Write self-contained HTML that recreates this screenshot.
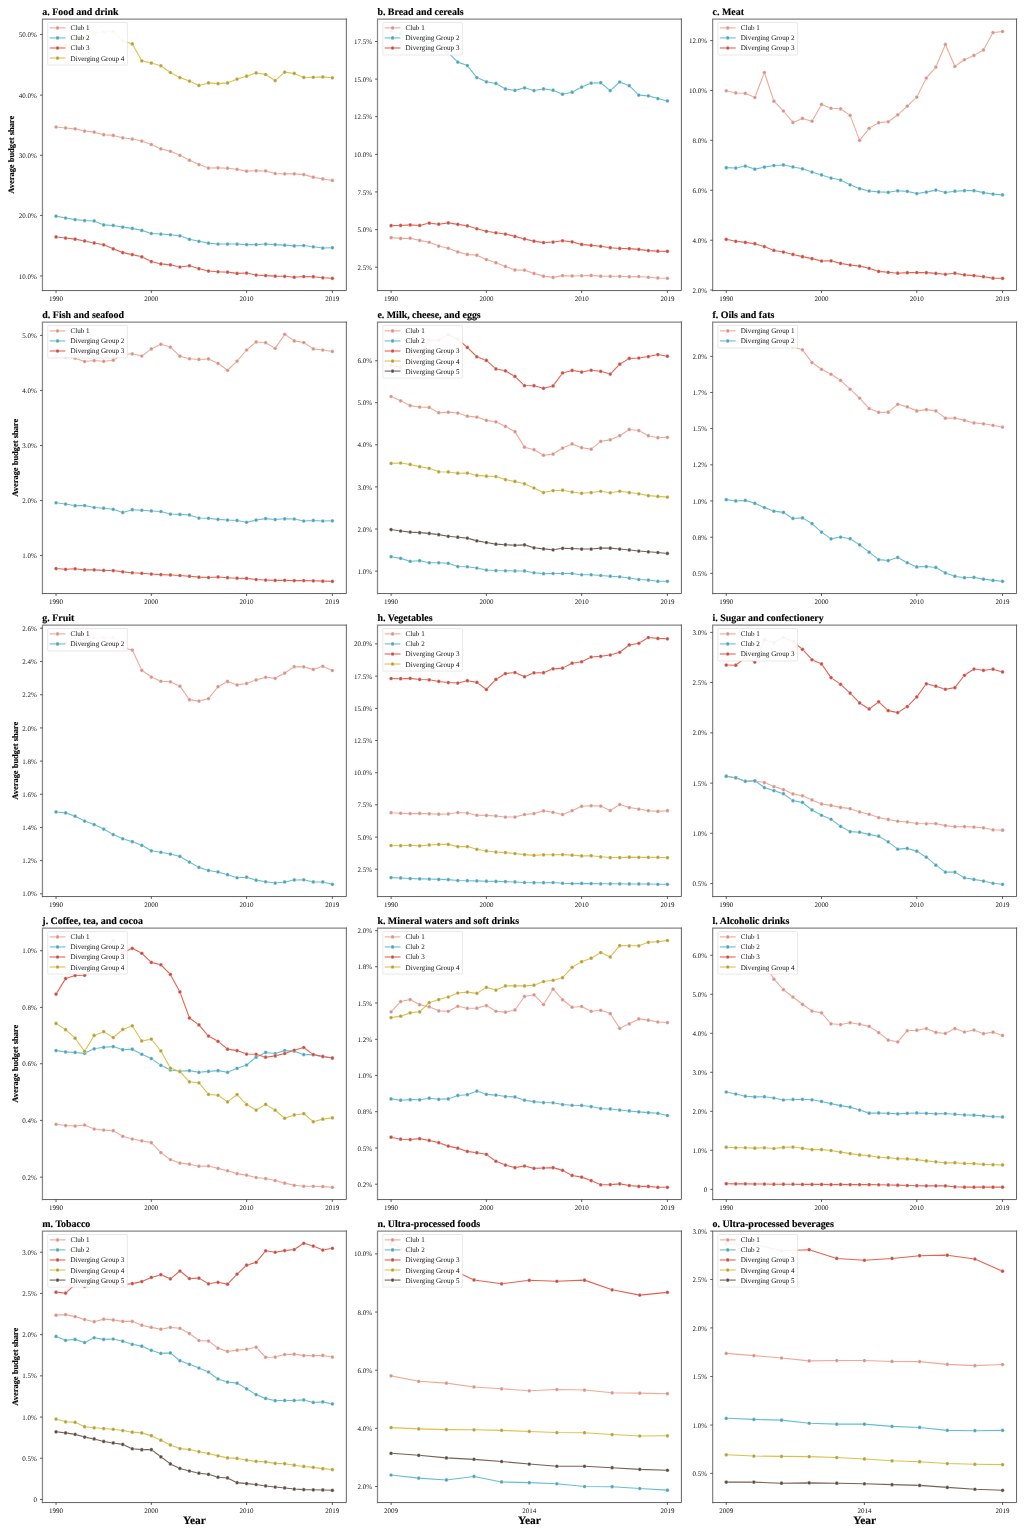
<!DOCTYPE html>
<html lang="en">
<head>
<meta charset="utf-8">
<title>Average budget share by convergence club</title>
<style>
html,body{margin:0;padding:0;background:#fff;}
body{width:1024px;height:1536px;overflow:hidden;}
svg{display:block;}
text{font-family:"Liberation Serif","DejaVu Serif",serif;fill:#111;stroke:#111;stroke-width:0;text-rendering:geometricPrecision;}
.ttl{font-size:9.94px;font-weight:bold;fill:#000;stroke:#000;stroke-width:0.15;}
.yt{font-size:7px;text-anchor:end;}
.xt{font-size:7px;text-anchor:middle;}
.lgt{font-size:7.1px;}
.yl{font-size:8.45px;font-weight:bold;text-anchor:middle;fill:#000;stroke:#000;stroke-width:0.15;}
.xl{font-size:11.4px;font-weight:bold;text-anchor:middle;fill:#000;stroke:#000;stroke-width:0.15;}
.sp{fill:none;stroke:#868686;stroke-width:1.25;stroke-linecap:square;}
.sp2{fill:none;stroke:#626262;stroke-width:1.0;}
.tk{fill:none;stroke:#333;stroke-width:0.8;}
.lgb{fill:#fff;fill-opacity:0.91;stroke:#d8d8d8;stroke-width:0.6;}
.ser{opacity:0.88;}
.mk circle,.mk1{stroke:#fff;stroke-width:0.35;}
.ser path{stroke-width:1.1;stroke-linejoin:round;stroke-linecap:butt;}
</style>
</head>
<body>
<svg width="1024" height="1536" viewBox="0 0 1024 1536" role="img" aria-label="Average budget share by club, 15 panels">
<rect width="1024" height="1536" fill="#fff"/>
<g>
<text class="ttl" x="42.35" y="14.7">a. Food and drink</text>
<g class="ser">
<path d="M56.06 127.02 L65.59 127.93 L75.12 128.84 L84.64 131.03 L94.17 132.12 L103.7 134.68 L113.22 135.41 L122.75 137.78 L132.28 139.05 L141.8 141.06 L151.33 144.52 L160.86 148.9 L170.38 151.27 L179.91 155.28 L189.44 160.2 L198.96 164.57 L208.49 168.04 L218.02 167.85 L227.54 168.22 L237.07 169.31 L246.6 171.14 L256.12 170.77 L265.65 170.95 L275.18 173.51 L284.7 173.87 L294.23 173.87 L303.76 174.6 L313.28 177.15 L322.81 178.97 L332.34 180.43" stroke="#F19D88" fill="none"/>
<g class="mk" fill="#CF867C"><circle cx="56.06" cy="127.02" r="1.85"/><circle cx="65.59" cy="127.93" r="1.85"/><circle cx="75.12" cy="128.84" r="1.85"/><circle cx="84.64" cy="131.03" r="1.85"/><circle cx="94.17" cy="132.12" r="1.85"/><circle cx="103.7" cy="134.68" r="1.85"/><circle cx="113.22" cy="135.41" r="1.85"/><circle cx="122.75" cy="137.78" r="1.85"/><circle cx="132.28" cy="139.05" r="1.85"/><circle cx="141.8" cy="141.06" r="1.85"/><circle cx="151.33" cy="144.52" r="1.85"/><circle cx="160.86" cy="148.9" r="1.85"/><circle cx="170.38" cy="151.27" r="1.85"/><circle cx="179.91" cy="155.28" r="1.85"/><circle cx="189.44" cy="160.2" r="1.85"/><circle cx="198.96" cy="164.57" r="1.85"/><circle cx="208.49" cy="168.04" r="1.85"/><circle cx="218.02" cy="167.85" r="1.85"/><circle cx="227.54" cy="168.22" r="1.85"/><circle cx="237.07" cy="169.31" r="1.85"/><circle cx="246.6" cy="171.14" r="1.85"/><circle cx="256.12" cy="170.77" r="1.85"/><circle cx="265.65" cy="170.95" r="1.85"/><circle cx="275.18" cy="173.51" r="1.85"/><circle cx="284.7" cy="173.87" r="1.85"/><circle cx="294.23" cy="173.87" r="1.85"/><circle cx="303.76" cy="174.6" r="1.85"/><circle cx="313.28" cy="177.15" r="1.85"/><circle cx="322.81" cy="178.97" r="1.85"/><circle cx="332.34" cy="180.43" r="1.85"/></g>
<path d="M56.06 216.16 L65.59 217.98 L75.12 219.62 L84.64 220.54 L94.17 220.9 L103.7 224.91 L113.22 225.46 L122.75 227.1 L132.28 228.38 L141.8 230.38 L151.33 233.48 L160.86 234.03 L170.38 234.76 L179.91 235.85 L189.44 239.31 L198.96 241.32 L208.49 243.14 L218.02 244.05 L227.54 244.05 L237.07 244.05 L246.6 244.6 L256.12 244.6 L265.65 244.05 L275.18 244.6 L284.7 245.15 L294.23 245.88 L303.76 245.51 L313.28 246.79 L322.81 248.06 L332.34 247.7" stroke="#4FB6CE" fill="none"/>
<g class="mk" fill="#3A97AB"><circle cx="56.06" cy="216.16" r="1.85"/><circle cx="65.59" cy="217.98" r="1.85"/><circle cx="75.12" cy="219.62" r="1.85"/><circle cx="84.64" cy="220.54" r="1.85"/><circle cx="94.17" cy="220.9" r="1.85"/><circle cx="103.7" cy="224.91" r="1.85"/><circle cx="113.22" cy="225.46" r="1.85"/><circle cx="122.75" cy="227.1" r="1.85"/><circle cx="132.28" cy="228.38" r="1.85"/><circle cx="141.8" cy="230.38" r="1.85"/><circle cx="151.33" cy="233.48" r="1.85"/><circle cx="160.86" cy="234.03" r="1.85"/><circle cx="170.38" cy="234.76" r="1.85"/><circle cx="179.91" cy="235.85" r="1.85"/><circle cx="189.44" cy="239.31" r="1.85"/><circle cx="198.96" cy="241.32" r="1.85"/><circle cx="208.49" cy="243.14" r="1.85"/><circle cx="218.02" cy="244.05" r="1.85"/><circle cx="227.54" cy="244.05" r="1.85"/><circle cx="237.07" cy="244.05" r="1.85"/><circle cx="246.6" cy="244.6" r="1.85"/><circle cx="256.12" cy="244.6" r="1.85"/><circle cx="265.65" cy="244.05" r="1.85"/><circle cx="275.18" cy="244.6" r="1.85"/><circle cx="284.7" cy="245.15" r="1.85"/><circle cx="294.23" cy="245.88" r="1.85"/><circle cx="303.76" cy="245.51" r="1.85"/><circle cx="313.28" cy="246.79" r="1.85"/><circle cx="322.81" cy="248.06" r="1.85"/><circle cx="332.34" cy="247.7" r="1.85"/></g>
<path d="M56.06 236.94 L65.59 238.04 L75.12 239.13 L84.64 240.95 L94.17 242.96 L103.7 244.78 L113.22 248.79 L122.75 252.62 L132.28 254.62 L141.8 256.81 L151.33 261.55 L160.86 263.92 L170.38 264.83 L179.91 267.02 L189.44 265.74 L198.96 268.66 L208.49 271.03 L218.02 271.76 L227.54 272.12 L237.07 273.4 L246.6 273.04 L256.12 275.04 L265.65 275.59 L275.18 276.14 L284.7 276.32 L294.23 277.23 L303.76 276.5 L313.28 276.68 L322.81 277.78 L332.34 278.32" stroke="#E64B35" fill="none"/>
<g class="mk" fill="#BE372F"><circle cx="56.06" cy="236.94" r="1.85"/><circle cx="65.59" cy="238.04" r="1.85"/><circle cx="75.12" cy="239.13" r="1.85"/><circle cx="84.64" cy="240.95" r="1.85"/><circle cx="94.17" cy="242.96" r="1.85"/><circle cx="103.7" cy="244.78" r="1.85"/><circle cx="113.22" cy="248.79" r="1.85"/><circle cx="122.75" cy="252.62" r="1.85"/><circle cx="132.28" cy="254.62" r="1.85"/><circle cx="141.8" cy="256.81" r="1.85"/><circle cx="151.33" cy="261.55" r="1.85"/><circle cx="160.86" cy="263.92" r="1.85"/><circle cx="170.38" cy="264.83" r="1.85"/><circle cx="179.91" cy="267.02" r="1.85"/><circle cx="189.44" cy="265.74" r="1.85"/><circle cx="198.96" cy="268.66" r="1.85"/><circle cx="208.49" cy="271.03" r="1.85"/><circle cx="218.02" cy="271.76" r="1.85"/><circle cx="227.54" cy="272.12" r="1.85"/><circle cx="237.07" cy="273.4" r="1.85"/><circle cx="246.6" cy="273.04" r="1.85"/><circle cx="256.12" cy="275.04" r="1.85"/><circle cx="265.65" cy="275.59" r="1.85"/><circle cx="275.18" cy="276.14" r="1.85"/><circle cx="284.7" cy="276.32" r="1.85"/><circle cx="294.23" cy="277.23" r="1.85"/><circle cx="303.76" cy="276.5" r="1.85"/><circle cx="313.28" cy="276.68" r="1.85"/><circle cx="322.81" cy="277.78" r="1.85"/><circle cx="332.34" cy="278.32" r="1.85"/></g>
<path d="M56.06 47.72 L65.59 45.35 L75.12 43.17 L84.64 37.7 L94.17 32.78 L103.7 31.86 L113.22 31.5 L122.75 40.8 L132.28 43.9 L141.8 60.85 L151.33 63.04 L160.86 65.77 L170.38 72.52 L179.91 77.62 L189.44 81.08 L198.96 85.46 L208.49 82.91 L218.02 83.64 L227.54 82.91 L237.07 79.08 L246.6 76.16 L256.12 72.88 L265.65 74.52 L275.18 80.54 L284.7 72.15 L294.23 73.43 L303.76 77.44 L313.28 77.26 L322.81 76.89 L332.34 77.8" stroke="#D9B92E" fill="none"/>
<g class="mk" fill="#AD9420"><circle cx="56.06" cy="47.72" r="1.85"/><circle cx="65.59" cy="45.35" r="1.85"/><circle cx="75.12" cy="43.17" r="1.85"/><circle cx="84.64" cy="37.7" r="1.85"/><circle cx="94.17" cy="32.78" r="1.85"/><circle cx="103.7" cy="31.86" r="1.85"/><circle cx="113.22" cy="31.5" r="1.85"/><circle cx="122.75" cy="40.8" r="1.85"/><circle cx="132.28" cy="43.9" r="1.85"/><circle cx="141.8" cy="60.85" r="1.85"/><circle cx="151.33" cy="63.04" r="1.85"/><circle cx="160.86" cy="65.77" r="1.85"/><circle cx="170.38" cy="72.52" r="1.85"/><circle cx="179.91" cy="77.62" r="1.85"/><circle cx="189.44" cy="81.08" r="1.85"/><circle cx="198.96" cy="85.46" r="1.85"/><circle cx="208.49" cy="82.91" r="1.85"/><circle cx="218.02" cy="83.64" r="1.85"/><circle cx="227.54" cy="82.91" r="1.85"/><circle cx="237.07" cy="79.08" r="1.85"/><circle cx="246.6" cy="76.16" r="1.85"/><circle cx="256.12" cy="72.88" r="1.85"/><circle cx="265.65" cy="74.52" r="1.85"/><circle cx="275.18" cy="80.54" r="1.85"/><circle cx="284.7" cy="72.15" r="1.85"/><circle cx="294.23" cy="73.43" r="1.85"/><circle cx="303.76" cy="77.44" r="1.85"/><circle cx="313.28" cy="77.26" r="1.85"/><circle cx="322.81" cy="76.89" r="1.85"/><circle cx="332.34" cy="77.8" r="1.85"/></g>
</g>
<rect class="lgb" x="47.75" y="22.5" width="79.6" height="42.55" rx="0.8"/>
<g opacity="0.88"><path d="M49.65 27.88H65.45" stroke="#F19D88" stroke-width="1.1"/><circle class="mk1" cx="57.55" cy="27.88" r="1.85" fill="#CF867C"/></g>
<text class="lgt" x="70.55" y="30.38">Club 1</text>
<g opacity="0.88"><path d="M49.65 37.93H65.45" stroke="#4FB6CE" stroke-width="1.1"/><circle class="mk1" cx="57.55" cy="37.93" r="1.85" fill="#3A97AB"/></g>
<text class="lgt" x="70.55" y="40.43">Club 2</text>
<g opacity="0.88"><path d="M49.65 47.98H65.45" stroke="#E64B35" stroke-width="1.1"/><circle class="mk1" cx="57.55" cy="47.98" r="1.85" fill="#BE372F"/></g>
<text class="lgt" x="70.55" y="50.48">Club 3</text>
<g opacity="0.88"><path d="M49.65 58.03H65.45" stroke="#D9B92E" stroke-width="1.1"/><circle class="mk1" cx="57.55" cy="58.03" r="1.85" fill="#AD9420"/></g>
<text class="lgt" x="70.55" y="60.53">Diverging Group 4</text>
<path class="sp" d="M42.45 290.56V19H346.35"/>
<path class="sp2" d="M346.35 18.5V290.56H41.95"/>
<text class="yt" x="36.95" y="37.02">50.0%</text>
<text class="yt" x="36.95" y="97.72">40.0%</text>
<text class="yt" x="36.95" y="157.88">30.0%</text>
<text class="yt" x="36.95" y="218.03">20.0%</text>
<text class="yt" x="36.95" y="278.55">10.0%</text>
<text class="xt" x="56.06" y="300.76">1990</text>
<text class="xt" x="151.33" y="300.76">2000</text>
<text class="xt" x="246.6" y="300.76">2010</text>
<text class="xt" x="332.34" y="300.76">2019</text>
<path class="tk" d="M42.45 34.42h-2.4M42.45 95.12h-2.4M42.45 155.28h-2.4M42.45 215.43h-2.4M42.45 275.95h-2.4M56.06 290.56v2.4M151.33 290.56v2.4M246.6 290.56v2.4M332.34 290.56v2.4"/>
<text class="yl" transform="translate(14.2 154.78) rotate(-90)">Average budget share</text>
</g>
<g>
<text class="ttl" x="377.4" y="14.7">b. Bread and cereals</text>
<g class="ser">
<path d="M391.11 237.67 L400.64 238.4 L410.17 238.22 L419.69 240.41 L429.22 242.23 L438.75 246.06 L448.27 248.24 L457.8 251.89 L467.33 254.44 L476.85 255.17 L486.38 259.55 L495.91 262.65 L505.43 266.47 L514.96 269.94 L524.49 270.12 L534.01 273.4 L543.54 276.14 L553.07 277.41 L562.59 275.59 L572.12 275.95 L581.65 275.77 L591.17 275.41 L600.7 276.14 L610.23 276.32 L619.75 276.32 L629.28 276.68 L638.81 276.5 L648.33 277.23 L657.86 277.96 L667.39 278.32" stroke="#F19D88" fill="none"/>
<g class="mk" fill="#CF867C"><circle cx="391.11" cy="237.67" r="1.85"/><circle cx="400.64" cy="238.4" r="1.85"/><circle cx="410.17" cy="238.22" r="1.85"/><circle cx="419.69" cy="240.41" r="1.85"/><circle cx="429.22" cy="242.23" r="1.85"/><circle cx="438.75" cy="246.06" r="1.85"/><circle cx="448.27" cy="248.24" r="1.85"/><circle cx="457.8" cy="251.89" r="1.85"/><circle cx="467.33" cy="254.44" r="1.85"/><circle cx="476.85" cy="255.17" r="1.85"/><circle cx="486.38" cy="259.55" r="1.85"/><circle cx="495.91" cy="262.65" r="1.85"/><circle cx="505.43" cy="266.47" r="1.85"/><circle cx="514.96" cy="269.94" r="1.85"/><circle cx="524.49" cy="270.12" r="1.85"/><circle cx="534.01" cy="273.4" r="1.85"/><circle cx="543.54" cy="276.14" r="1.85"/><circle cx="553.07" cy="277.41" r="1.85"/><circle cx="562.59" cy="275.59" r="1.85"/><circle cx="572.12" cy="275.95" r="1.85"/><circle cx="581.65" cy="275.77" r="1.85"/><circle cx="591.17" cy="275.41" r="1.85"/><circle cx="600.7" cy="276.14" r="1.85"/><circle cx="610.23" cy="276.32" r="1.85"/><circle cx="619.75" cy="276.32" r="1.85"/><circle cx="629.28" cy="276.68" r="1.85"/><circle cx="638.81" cy="276.5" r="1.85"/><circle cx="648.33" cy="277.23" r="1.85"/><circle cx="657.86" cy="277.96" r="1.85"/><circle cx="667.39" cy="278.32" r="1.85"/></g>
<path d="M391.11 31.32 L400.64 33.69 L410.17 36.24 L419.69 39.16 L429.22 42.8 L438.75 47.18 L448.27 52.65 L457.8 62.12 L467.33 65.59 L476.85 77.62 L486.38 81.81 L495.91 83.45 L505.43 88.92 L514.96 90.38 L524.49 87.83 L534.01 90.56 L543.54 88.92 L553.07 90.2 L562.59 94.21 L572.12 92.2 L581.65 87.1 L591.17 83.09 L600.7 82.72 L610.23 90.56 L619.75 81.99 L629.28 85.64 L638.81 95.12 L648.33 95.85 L657.86 98.58 L667.39 100.95" stroke="#4FB6CE" fill="none"/>
<g class="mk" fill="#3A97AB"><circle cx="391.11" cy="31.32" r="1.85"/><circle cx="400.64" cy="33.69" r="1.85"/><circle cx="410.17" cy="36.24" r="1.85"/><circle cx="419.69" cy="39.16" r="1.85"/><circle cx="429.22" cy="42.8" r="1.85"/><circle cx="438.75" cy="47.18" r="1.85"/><circle cx="448.27" cy="52.65" r="1.85"/><circle cx="457.8" cy="62.12" r="1.85"/><circle cx="467.33" cy="65.59" r="1.85"/><circle cx="476.85" cy="77.62" r="1.85"/><circle cx="486.38" cy="81.81" r="1.85"/><circle cx="495.91" cy="83.45" r="1.85"/><circle cx="505.43" cy="88.92" r="1.85"/><circle cx="514.96" cy="90.38" r="1.85"/><circle cx="524.49" cy="87.83" r="1.85"/><circle cx="534.01" cy="90.56" r="1.85"/><circle cx="543.54" cy="88.92" r="1.85"/><circle cx="553.07" cy="90.2" r="1.85"/><circle cx="562.59" cy="94.21" r="1.85"/><circle cx="572.12" cy="92.2" r="1.85"/><circle cx="581.65" cy="87.1" r="1.85"/><circle cx="591.17" cy="83.09" r="1.85"/><circle cx="600.7" cy="82.72" r="1.85"/><circle cx="610.23" cy="90.56" r="1.85"/><circle cx="619.75" cy="81.99" r="1.85"/><circle cx="629.28" cy="85.64" r="1.85"/><circle cx="638.81" cy="95.12" r="1.85"/><circle cx="648.33" cy="95.85" r="1.85"/><circle cx="657.86" cy="98.58" r="1.85"/><circle cx="667.39" cy="100.95" r="1.85"/></g>
<path d="M391.11 225.64 L400.64 225.46 L410.17 224.91 L419.69 225.46 L429.22 223.09 L438.75 224.18 L448.27 222.91 L457.8 224.36 L467.33 225.82 L476.85 228.74 L486.38 231.29 L495.91 232.75 L505.43 234.03 L514.96 236.4 L524.49 238.95 L534.01 241.14 L543.54 242.59 L553.07 242.05 L562.59 240.77 L572.12 241.86 L581.65 244.42 L591.17 245.33 L600.7 246.24 L610.23 247.7 L619.75 248.43 L629.28 248.61 L638.81 249.34 L648.33 250.61 L657.86 251.16 L667.39 251.34" stroke="#E64B35" fill="none"/>
<g class="mk" fill="#BE372F"><circle cx="391.11" cy="225.64" r="1.85"/><circle cx="400.64" cy="225.46" r="1.85"/><circle cx="410.17" cy="224.91" r="1.85"/><circle cx="419.69" cy="225.46" r="1.85"/><circle cx="429.22" cy="223.09" r="1.85"/><circle cx="438.75" cy="224.18" r="1.85"/><circle cx="448.27" cy="222.91" r="1.85"/><circle cx="457.8" cy="224.36" r="1.85"/><circle cx="467.33" cy="225.82" r="1.85"/><circle cx="476.85" cy="228.74" r="1.85"/><circle cx="486.38" cy="231.29" r="1.85"/><circle cx="495.91" cy="232.75" r="1.85"/><circle cx="505.43" cy="234.03" r="1.85"/><circle cx="514.96" cy="236.4" r="1.85"/><circle cx="524.49" cy="238.95" r="1.85"/><circle cx="534.01" cy="241.14" r="1.85"/><circle cx="543.54" cy="242.59" r="1.85"/><circle cx="553.07" cy="242.05" r="1.85"/><circle cx="562.59" cy="240.77" r="1.85"/><circle cx="572.12" cy="241.86" r="1.85"/><circle cx="581.65" cy="244.42" r="1.85"/><circle cx="591.17" cy="245.33" r="1.85"/><circle cx="600.7" cy="246.24" r="1.85"/><circle cx="610.23" cy="247.7" r="1.85"/><circle cx="619.75" cy="248.43" r="1.85"/><circle cx="629.28" cy="248.61" r="1.85"/><circle cx="638.81" cy="249.34" r="1.85"/><circle cx="648.33" cy="250.61" r="1.85"/><circle cx="657.86" cy="251.16" r="1.85"/><circle cx="667.39" cy="251.34" r="1.85"/></g>
</g>
<rect class="lgb" x="382.8" y="22.5" width="79.6" height="32.5" rx="0.8"/>
<g opacity="0.88"><path d="M384.7 27.88H400.5" stroke="#F19D88" stroke-width="1.1"/><circle class="mk1" cx="392.6" cy="27.88" r="1.85" fill="#CF867C"/></g>
<text class="lgt" x="405.6" y="30.38">Club 1</text>
<g opacity="0.88"><path d="M384.7 37.93H400.5" stroke="#4FB6CE" stroke-width="1.1"/><circle class="mk1" cx="392.6" cy="37.93" r="1.85" fill="#3A97AB"/></g>
<text class="lgt" x="405.6" y="40.43">Diverging Group 2</text>
<g opacity="0.88"><path d="M384.7 47.98H400.5" stroke="#E64B35" stroke-width="1.1"/><circle class="mk1" cx="392.6" cy="47.98" r="1.85" fill="#BE372F"/></g>
<text class="lgt" x="405.6" y="50.48">Diverging Group 3</text>
<path class="sp" d="M377.5 290.56V19H681.4"/>
<path class="sp2" d="M681.4 18.5V290.56H377"/>
<text class="yt" x="372" y="44.13">17.5%</text>
<text class="yt" x="372" y="81.68">15.0%</text>
<text class="yt" x="372" y="119.23">12.5%</text>
<text class="yt" x="372" y="156.96">10.0%</text>
<text class="yt" x="372" y="194.52">7.5%</text>
<text class="yt" x="372" y="232.25">5.0%</text>
<text class="yt" x="372" y="269.8">2.5%</text>
<text class="xt" x="391.11" y="300.76">1990</text>
<text class="xt" x="486.38" y="300.76">2000</text>
<text class="xt" x="581.65" y="300.76">2010</text>
<text class="xt" x="667.39" y="300.76">2019</text>
<path class="tk" d="M377.5 41.53h-2.4M377.5 79.08h-2.4M377.5 116.63h-2.4M377.5 154.36h-2.4M377.5 191.92h-2.4M377.5 229.65h-2.4M377.5 267.2h-2.4M391.11 290.56v2.4M486.38 290.56v2.4M581.65 290.56v2.4M667.39 290.56v2.4"/>
</g>
<g>
<text class="ttl" x="712.55" y="14.7">c. Meat</text>
<g class="ser">
<path d="M726.26 90.74 L735.79 92.93 L745.32 93.3 L754.84 97.49 L764.37 72.52 L773.9 101.14 L783.42 110.98 L792.95 122.46 L802.48 118.45 L812 121.19 L821.53 104.42 L831.06 108.24 L840.58 108.79 L850.11 115.35 L859.64 140.33 L869.16 128.3 L878.69 122.65 L888.22 121.73 L897.74 114.81 L907.27 106.06 L916.8 97.12 L926.32 77.98 L935.85 67.05 L945.38 44.44 L954.9 66.32 L964.43 59.76 L973.96 55.38 L983.48 49.91 L993.01 32.59 L1002.54 31.5" stroke="#F19D88" fill="none"/>
<g class="mk" fill="#CF867C"><circle cx="726.26" cy="90.74" r="1.85"/><circle cx="735.79" cy="92.93" r="1.85"/><circle cx="745.32" cy="93.3" r="1.85"/><circle cx="754.84" cy="97.49" r="1.85"/><circle cx="764.37" cy="72.52" r="1.85"/><circle cx="773.9" cy="101.14" r="1.85"/><circle cx="783.42" cy="110.98" r="1.85"/><circle cx="792.95" cy="122.46" r="1.85"/><circle cx="802.48" cy="118.45" r="1.85"/><circle cx="812" cy="121.19" r="1.85"/><circle cx="821.53" cy="104.42" r="1.85"/><circle cx="831.06" cy="108.24" r="1.85"/><circle cx="840.58" cy="108.79" r="1.85"/><circle cx="850.11" cy="115.35" r="1.85"/><circle cx="859.64" cy="140.33" r="1.85"/><circle cx="869.16" cy="128.3" r="1.85"/><circle cx="878.69" cy="122.65" r="1.85"/><circle cx="888.22" cy="121.73" r="1.85"/><circle cx="897.74" cy="114.81" r="1.85"/><circle cx="907.27" cy="106.06" r="1.85"/><circle cx="916.8" cy="97.12" r="1.85"/><circle cx="926.32" cy="77.98" r="1.85"/><circle cx="935.85" cy="67.05" r="1.85"/><circle cx="945.38" cy="44.44" r="1.85"/><circle cx="954.9" cy="66.32" r="1.85"/><circle cx="964.43" cy="59.76" r="1.85"/><circle cx="973.96" cy="55.38" r="1.85"/><circle cx="983.48" cy="49.91" r="1.85"/><circle cx="993.01" cy="32.59" r="1.85"/><circle cx="1002.54" cy="31.5" r="1.85"/></g>
<path d="M726.26 167.67 L735.79 168.04 L745.32 166.03 L754.84 169.13 L764.37 167.12 L773.9 165.48 L783.42 164.94 L792.95 166.94 L802.48 168.77 L812 172.05 L821.53 174.96 L831.06 178.06 L840.58 180.07 L850.11 184.81 L859.64 188.64 L869.16 191.01 L878.69 191.92 L888.22 192.28 L897.74 190.82 L907.27 191.37 L916.8 193.56 L926.32 192.1 L935.85 190.09 L945.38 192.46 L954.9 191.19 L964.43 190.64 L973.96 190.64 L983.48 192.65 L993.01 194.1 L1002.54 194.83" stroke="#4FB6CE" fill="none"/>
<g class="mk" fill="#3A97AB"><circle cx="726.26" cy="167.67" r="1.85"/><circle cx="735.79" cy="168.04" r="1.85"/><circle cx="745.32" cy="166.03" r="1.85"/><circle cx="754.84" cy="169.13" r="1.85"/><circle cx="764.37" cy="167.12" r="1.85"/><circle cx="773.9" cy="165.48" r="1.85"/><circle cx="783.42" cy="164.94" r="1.85"/><circle cx="792.95" cy="166.94" r="1.85"/><circle cx="802.48" cy="168.77" r="1.85"/><circle cx="812" cy="172.05" r="1.85"/><circle cx="821.53" cy="174.96" r="1.85"/><circle cx="831.06" cy="178.06" r="1.85"/><circle cx="840.58" cy="180.07" r="1.85"/><circle cx="850.11" cy="184.81" r="1.85"/><circle cx="859.64" cy="188.64" r="1.85"/><circle cx="869.16" cy="191.01" r="1.85"/><circle cx="878.69" cy="191.92" r="1.85"/><circle cx="888.22" cy="192.28" r="1.85"/><circle cx="897.74" cy="190.82" r="1.85"/><circle cx="907.27" cy="191.37" r="1.85"/><circle cx="916.8" cy="193.56" r="1.85"/><circle cx="926.32" cy="192.1" r="1.85"/><circle cx="935.85" cy="190.09" r="1.85"/><circle cx="945.38" cy="192.46" r="1.85"/><circle cx="954.9" cy="191.19" r="1.85"/><circle cx="964.43" cy="190.64" r="1.85"/><circle cx="973.96" cy="190.64" r="1.85"/><circle cx="983.48" cy="192.65" r="1.85"/><circle cx="993.01" cy="194.1" r="1.85"/><circle cx="1002.54" cy="194.83" r="1.85"/></g>
<path d="M726.26 239.31 L735.79 241.32 L745.32 242.41 L754.84 243.69 L764.37 246.6 L773.9 250.43 L783.42 252.07 L792.95 254.44 L802.48 256.63 L812 258.64 L821.53 261.01 L831.06 260.82 L840.58 263.38 L850.11 265.02 L859.64 266.11 L869.16 268.3 L878.69 271.4 L888.22 272.31 L897.74 273.22 L907.27 272.67 L916.8 272.49 L926.32 272.67 L935.85 273.4 L945.38 274.31 L954.9 273.22 L964.43 274.86 L973.96 275.59 L983.48 276.68 L993.01 278.14 L1002.54 278.32" stroke="#E64B35" fill="none"/>
<g class="mk" fill="#BE372F"><circle cx="726.26" cy="239.31" r="1.85"/><circle cx="735.79" cy="241.32" r="1.85"/><circle cx="745.32" cy="242.41" r="1.85"/><circle cx="754.84" cy="243.69" r="1.85"/><circle cx="764.37" cy="246.6" r="1.85"/><circle cx="773.9" cy="250.43" r="1.85"/><circle cx="783.42" cy="252.07" r="1.85"/><circle cx="792.95" cy="254.44" r="1.85"/><circle cx="802.48" cy="256.63" r="1.85"/><circle cx="812" cy="258.64" r="1.85"/><circle cx="821.53" cy="261.01" r="1.85"/><circle cx="831.06" cy="260.82" r="1.85"/><circle cx="840.58" cy="263.38" r="1.85"/><circle cx="850.11" cy="265.02" r="1.85"/><circle cx="859.64" cy="266.11" r="1.85"/><circle cx="869.16" cy="268.3" r="1.85"/><circle cx="878.69" cy="271.4" r="1.85"/><circle cx="888.22" cy="272.31" r="1.85"/><circle cx="897.74" cy="273.22" r="1.85"/><circle cx="907.27" cy="272.67" r="1.85"/><circle cx="916.8" cy="272.49" r="1.85"/><circle cx="926.32" cy="272.67" r="1.85"/><circle cx="935.85" cy="273.4" r="1.85"/><circle cx="945.38" cy="274.31" r="1.85"/><circle cx="954.9" cy="273.22" r="1.85"/><circle cx="964.43" cy="274.86" r="1.85"/><circle cx="973.96" cy="275.59" r="1.85"/><circle cx="983.48" cy="276.68" r="1.85"/><circle cx="993.01" cy="278.14" r="1.85"/><circle cx="1002.54" cy="278.32" r="1.85"/></g>
</g>
<rect class="lgb" x="717.95" y="22.5" width="79.6" height="32.5" rx="0.8"/>
<g opacity="0.88"><path d="M719.85 27.88H735.65" stroke="#F19D88" stroke-width="1.1"/><circle class="mk1" cx="727.75" cy="27.88" r="1.85" fill="#CF867C"/></g>
<text class="lgt" x="740.75" y="30.38">Club 1</text>
<g opacity="0.88"><path d="M719.85 37.93H735.65" stroke="#4FB6CE" stroke-width="1.1"/><circle class="mk1" cx="727.75" cy="37.93" r="1.85" fill="#3A97AB"/></g>
<text class="lgt" x="740.75" y="40.43">Diverging Group 2</text>
<g opacity="0.88"><path d="M719.85 47.98H735.65" stroke="#E64B35" stroke-width="1.1"/><circle class="mk1" cx="727.75" cy="47.98" r="1.85" fill="#BE372F"/></g>
<text class="lgt" x="740.75" y="50.48">Diverging Group 3</text>
<path class="sp" d="M712.65 290.56V19H1016.55"/>
<path class="sp2" d="M1016.55 18.5V290.56H712.15"/>
<text class="yt" x="707.15" y="43.21">12.0%</text>
<text class="yt" x="707.15" y="93.16">10.0%</text>
<text class="yt" x="707.15" y="142.93">8.0%</text>
<text class="yt" x="707.15" y="192.88">6.0%</text>
<text class="yt" x="707.15" y="242.82">4.0%</text>
<text class="yt" x="707.15" y="292.59">2.0%</text>
<text class="xt" x="726.26" y="300.76">1990</text>
<text class="xt" x="821.53" y="300.76">2000</text>
<text class="xt" x="916.8" y="300.76">2010</text>
<text class="xt" x="1002.54" y="300.76">2019</text>
<path class="tk" d="M712.65 40.61h-2.4M712.65 90.56h-2.4M712.65 140.33h-2.4M712.65 190.28h-2.4M712.65 240.22h-2.4M712.65 289.99h-2.4M726.26 290.56v2.4M821.53 290.56v2.4M916.8 290.56v2.4M1002.54 290.56v2.4"/>
</g>
<g>
<text class="ttl" x="42.35" y="317.7">d. Fish and seafood</text>
<g class="ser">
<path d="M56.06 356.19 L65.59 356.74 L75.12 358.2 L84.64 361.48 L94.17 360.57 L103.7 361.3 L113.22 360.2 L122.75 354.37 L132.28 353.82 L141.8 356.01 L151.33 348.9 L160.86 344.34 L170.38 347.08 L179.91 356.19 L189.44 358.74 L198.96 359.47 L208.49 358.93 L218.02 363.3 L227.54 370.23 L237.07 361.11 L246.6 349.99 L256.12 341.97 L265.65 342.7 L275.18 348.35 L284.7 334.32 L294.23 340.88 L303.76 342.52 L313.28 348.9 L322.81 349.99 L332.34 351.45" stroke="#F19D88" fill="none"/>
<g class="mk" fill="#CF867C"><circle cx="56.06" cy="356.19" r="1.85"/><circle cx="65.59" cy="356.74" r="1.85"/><circle cx="75.12" cy="358.2" r="1.85"/><circle cx="84.64" cy="361.48" r="1.85"/><circle cx="94.17" cy="360.57" r="1.85"/><circle cx="103.7" cy="361.3" r="1.85"/><circle cx="113.22" cy="360.2" r="1.85"/><circle cx="122.75" cy="354.37" r="1.85"/><circle cx="132.28" cy="353.82" r="1.85"/><circle cx="141.8" cy="356.01" r="1.85"/><circle cx="151.33" cy="348.9" r="1.85"/><circle cx="160.86" cy="344.34" r="1.85"/><circle cx="170.38" cy="347.08" r="1.85"/><circle cx="179.91" cy="356.19" r="1.85"/><circle cx="189.44" cy="358.74" r="1.85"/><circle cx="198.96" cy="359.47" r="1.85"/><circle cx="208.49" cy="358.93" r="1.85"/><circle cx="218.02" cy="363.3" r="1.85"/><circle cx="227.54" cy="370.23" r="1.85"/><circle cx="237.07" cy="361.11" r="1.85"/><circle cx="246.6" cy="349.99" r="1.85"/><circle cx="256.12" cy="341.97" r="1.85"/><circle cx="265.65" cy="342.7" r="1.85"/><circle cx="275.18" cy="348.35" r="1.85"/><circle cx="284.7" cy="334.32" r="1.85"/><circle cx="294.23" cy="340.88" r="1.85"/><circle cx="303.76" cy="342.52" r="1.85"/><circle cx="313.28" cy="348.9" r="1.85"/><circle cx="322.81" cy="349.99" r="1.85"/><circle cx="332.34" cy="351.45" r="1.85"/></g>
<path d="M56.06 502.76 L65.59 504.03 L75.12 505.67 L84.64 505.49 L94.17 507.49 L103.7 508.22 L113.22 509.32 L122.75 512.42 L132.28 509.68 L141.8 510.23 L151.33 510.96 L160.86 511.51 L170.38 514.06 L179.91 514.42 L189.44 514.97 L198.96 518.07 L208.49 518.25 L218.02 519.34 L227.54 520.07 L237.07 520.44 L246.6 522.26 L256.12 520.07 L265.65 518.61 L275.18 519.53 L284.7 518.8 L294.23 518.98 L303.76 520.98 L313.28 520.44 L322.81 520.98 L332.34 520.8" stroke="#4FB6CE" fill="none"/>
<g class="mk" fill="#3A97AB"><circle cx="56.06" cy="502.76" r="1.85"/><circle cx="65.59" cy="504.03" r="1.85"/><circle cx="75.12" cy="505.67" r="1.85"/><circle cx="84.64" cy="505.49" r="1.85"/><circle cx="94.17" cy="507.49" r="1.85"/><circle cx="103.7" cy="508.22" r="1.85"/><circle cx="113.22" cy="509.32" r="1.85"/><circle cx="122.75" cy="512.42" r="1.85"/><circle cx="132.28" cy="509.68" r="1.85"/><circle cx="141.8" cy="510.23" r="1.85"/><circle cx="151.33" cy="510.96" r="1.85"/><circle cx="160.86" cy="511.51" r="1.85"/><circle cx="170.38" cy="514.06" r="1.85"/><circle cx="179.91" cy="514.42" r="1.85"/><circle cx="189.44" cy="514.97" r="1.85"/><circle cx="198.96" cy="518.07" r="1.85"/><circle cx="208.49" cy="518.25" r="1.85"/><circle cx="218.02" cy="519.34" r="1.85"/><circle cx="227.54" cy="520.07" r="1.85"/><circle cx="237.07" cy="520.44" r="1.85"/><circle cx="246.6" cy="522.26" r="1.85"/><circle cx="256.12" cy="520.07" r="1.85"/><circle cx="265.65" cy="518.61" r="1.85"/><circle cx="275.18" cy="519.53" r="1.85"/><circle cx="284.7" cy="518.8" r="1.85"/><circle cx="294.23" cy="518.98" r="1.85"/><circle cx="303.76" cy="520.98" r="1.85"/><circle cx="313.28" cy="520.44" r="1.85"/><circle cx="322.81" cy="520.98" r="1.85"/><circle cx="332.34" cy="520.8" r="1.85"/></g>
<path d="M56.06 568.56 L65.59 569.29 L75.12 568.74 L84.64 569.84 L94.17 569.84 L103.7 570.39 L113.22 570.57 L122.75 571.84 L132.28 572.76 L141.8 573.3 L151.33 574.03 L160.86 574.58 L170.38 574.94 L179.91 575.49 L189.44 576.22 L198.96 577.13 L208.49 577.49 L218.02 576.95 L227.54 577.68 L237.07 578.22 L246.6 578.41 L256.12 579.5 L265.65 580.05 L275.18 580.41 L284.7 580.23 L294.23 580.59 L303.76 580.59 L313.28 580.78 L322.81 581.14 L332.34 581.32" stroke="#E64B35" fill="none"/>
<g class="mk" fill="#BE372F"><circle cx="56.06" cy="568.56" r="1.85"/><circle cx="65.59" cy="569.29" r="1.85"/><circle cx="75.12" cy="568.74" r="1.85"/><circle cx="84.64" cy="569.84" r="1.85"/><circle cx="94.17" cy="569.84" r="1.85"/><circle cx="103.7" cy="570.39" r="1.85"/><circle cx="113.22" cy="570.57" r="1.85"/><circle cx="122.75" cy="571.84" r="1.85"/><circle cx="132.28" cy="572.76" r="1.85"/><circle cx="141.8" cy="573.3" r="1.85"/><circle cx="151.33" cy="574.03" r="1.85"/><circle cx="160.86" cy="574.58" r="1.85"/><circle cx="170.38" cy="574.94" r="1.85"/><circle cx="179.91" cy="575.49" r="1.85"/><circle cx="189.44" cy="576.22" r="1.85"/><circle cx="198.96" cy="577.13" r="1.85"/><circle cx="208.49" cy="577.49" r="1.85"/><circle cx="218.02" cy="576.95" r="1.85"/><circle cx="227.54" cy="577.68" r="1.85"/><circle cx="237.07" cy="578.22" r="1.85"/><circle cx="246.6" cy="578.41" r="1.85"/><circle cx="256.12" cy="579.5" r="1.85"/><circle cx="265.65" cy="580.05" r="1.85"/><circle cx="275.18" cy="580.41" r="1.85"/><circle cx="284.7" cy="580.23" r="1.85"/><circle cx="294.23" cy="580.59" r="1.85"/><circle cx="303.76" cy="580.59" r="1.85"/><circle cx="313.28" cy="580.78" r="1.85"/><circle cx="322.81" cy="581.14" r="1.85"/><circle cx="332.34" cy="581.32" r="1.85"/></g>
</g>
<rect class="lgb" x="47.75" y="325.5" width="79.6" height="32.5" rx="0.8"/>
<g opacity="0.88"><path d="M49.65 330.88H65.45" stroke="#F19D88" stroke-width="1.1"/><circle class="mk1" cx="57.55" cy="330.88" r="1.85" fill="#CF867C"/></g>
<text class="lgt" x="70.55" y="333.38">Club 1</text>
<g opacity="0.88"><path d="M49.65 340.93H65.45" stroke="#4FB6CE" stroke-width="1.1"/><circle class="mk1" cx="57.55" cy="340.93" r="1.85" fill="#3A97AB"/></g>
<text class="lgt" x="70.55" y="343.43">Diverging Group 2</text>
<g opacity="0.88"><path d="M49.65 350.98H65.45" stroke="#E64B35" stroke-width="1.1"/><circle class="mk1" cx="57.55" cy="350.98" r="1.85" fill="#BE372F"/></g>
<text class="lgt" x="70.55" y="353.48">Diverging Group 3</text>
<path class="sp" d="M42.45 593.56V322H346.35"/>
<path class="sp2" d="M346.35 321.5V593.56H41.95"/>
<text class="yt" x="36.95" y="338.01">5.0%</text>
<text class="yt" x="36.95" y="393.06">4.0%</text>
<text class="yt" x="36.95" y="448.12">3.0%</text>
<text class="yt" x="36.95" y="503.17">2.0%</text>
<text class="yt" x="36.95" y="558.04">1.0%</text>
<text class="xt" x="56.06" y="603.76">1990</text>
<text class="xt" x="151.33" y="603.76">2000</text>
<text class="xt" x="246.6" y="603.76">2010</text>
<text class="xt" x="332.34" y="603.76">2019</text>
<path class="tk" d="M42.45 335.41h-2.4M42.45 390.46h-2.4M42.45 445.52h-2.4M42.45 500.57h-2.4M42.45 555.44h-2.4M56.06 593.56v2.4M151.33 593.56v2.4M246.6 593.56v2.4M332.34 593.56v2.4"/>
<text class="yl" transform="translate(17.7 457.78) rotate(-90)">Average budget share</text>
</g>
<g>
<text class="ttl" x="377.4" y="317.7">e. Milk, cheese, and eggs</text>
<g class="ser">
<path d="M391.11 396.48 L400.64 400.85 L410.17 405.59 L419.69 407.05 L429.22 407.42 L438.75 412.7 L448.27 412.16 L457.8 413.07 L467.33 416.17 L476.85 417.08 L486.38 420.36 L495.91 421.82 L505.43 426.38 L514.96 431.66 L524.49 447.16 L534.01 449.71 L543.54 455.18 L553.07 454.08 L562.59 448.07 L572.12 443.88 L581.65 447.7 L591.17 449.16 L600.7 441.32 L610.23 439.86 L619.75 435.67 L629.28 429.47 L638.81 430.57 L648.33 435.67 L657.86 437.68 L667.39 437.31" stroke="#F19D88" fill="none"/>
<g class="mk" fill="#CF867C"><circle cx="391.11" cy="396.48" r="1.85"/><circle cx="400.64" cy="400.85" r="1.85"/><circle cx="410.17" cy="405.59" r="1.85"/><circle cx="419.69" cy="407.05" r="1.85"/><circle cx="429.22" cy="407.42" r="1.85"/><circle cx="438.75" cy="412.7" r="1.85"/><circle cx="448.27" cy="412.16" r="1.85"/><circle cx="457.8" cy="413.07" r="1.85"/><circle cx="467.33" cy="416.17" r="1.85"/><circle cx="476.85" cy="417.08" r="1.85"/><circle cx="486.38" cy="420.36" r="1.85"/><circle cx="495.91" cy="421.82" r="1.85"/><circle cx="505.43" cy="426.38" r="1.85"/><circle cx="514.96" cy="431.66" r="1.85"/><circle cx="524.49" cy="447.16" r="1.85"/><circle cx="534.01" cy="449.71" r="1.85"/><circle cx="543.54" cy="455.18" r="1.85"/><circle cx="553.07" cy="454.08" r="1.85"/><circle cx="562.59" cy="448.07" r="1.85"/><circle cx="572.12" cy="443.88" r="1.85"/><circle cx="581.65" cy="447.7" r="1.85"/><circle cx="591.17" cy="449.16" r="1.85"/><circle cx="600.7" cy="441.32" r="1.85"/><circle cx="610.23" cy="439.86" r="1.85"/><circle cx="619.75" cy="435.67" r="1.85"/><circle cx="629.28" cy="429.47" r="1.85"/><circle cx="638.81" cy="430.57" r="1.85"/><circle cx="648.33" cy="435.67" r="1.85"/><circle cx="657.86" cy="437.68" r="1.85"/><circle cx="667.39" cy="437.31" r="1.85"/></g>
<path d="M391.11 556.71 L400.64 558.35 L410.17 561.27 L419.69 560.72 L429.22 562.73 L438.75 562.73 L448.27 563.28 L457.8 566.56 L467.33 566.74 L476.85 568.02 L486.38 570.02 L495.91 570.57 L505.43 570.75 L514.96 570.93 L524.49 570.93 L534.01 572.76 L543.54 573.67 L553.07 573.48 L562.59 573.48 L572.12 573.48 L581.65 574.76 L591.17 574.76 L600.7 575.49 L610.23 576.22 L619.75 576.77 L629.28 578.04 L638.81 579.5 L648.33 580.05 L657.86 581.32 L667.39 581.32" stroke="#4FB6CE" fill="none"/>
<g class="mk" fill="#3A97AB"><circle cx="391.11" cy="556.71" r="1.85"/><circle cx="400.64" cy="558.35" r="1.85"/><circle cx="410.17" cy="561.27" r="1.85"/><circle cx="419.69" cy="560.72" r="1.85"/><circle cx="429.22" cy="562.73" r="1.85"/><circle cx="438.75" cy="562.73" r="1.85"/><circle cx="448.27" cy="563.28" r="1.85"/><circle cx="457.8" cy="566.56" r="1.85"/><circle cx="467.33" cy="566.74" r="1.85"/><circle cx="476.85" cy="568.02" r="1.85"/><circle cx="486.38" cy="570.02" r="1.85"/><circle cx="495.91" cy="570.57" r="1.85"/><circle cx="505.43" cy="570.75" r="1.85"/><circle cx="514.96" cy="570.93" r="1.85"/><circle cx="524.49" cy="570.93" r="1.85"/><circle cx="534.01" cy="572.76" r="1.85"/><circle cx="543.54" cy="573.67" r="1.85"/><circle cx="553.07" cy="573.48" r="1.85"/><circle cx="562.59" cy="573.48" r="1.85"/><circle cx="572.12" cy="573.48" r="1.85"/><circle cx="581.65" cy="574.76" r="1.85"/><circle cx="591.17" cy="574.76" r="1.85"/><circle cx="600.7" cy="575.49" r="1.85"/><circle cx="610.23" cy="576.22" r="1.85"/><circle cx="619.75" cy="576.77" r="1.85"/><circle cx="629.28" cy="578.04" r="1.85"/><circle cx="638.81" cy="579.5" r="1.85"/><circle cx="648.33" cy="580.05" r="1.85"/><circle cx="657.86" cy="581.32" r="1.85"/><circle cx="667.39" cy="581.32" r="1.85"/></g>
<path d="M391.11 365.31 L400.64 367.13 L410.17 354.92 L419.69 356.19 L429.22 339.97 L438.75 340.15 L448.27 334.5 L457.8 339.24 L467.33 347.44 L476.85 356.74 L486.38 360.39 L495.91 368.95 L505.43 370.78 L514.96 376.43 L524.49 385.54 L534.01 385.72 L543.54 388.28 L553.07 385.91 L562.59 372.96 L572.12 370.41 L581.65 372.05 L591.17 370.23 L600.7 371.32 L610.23 374.06 L619.75 364.21 L629.28 358.38 L638.81 358.02 L648.33 356.56 L657.86 354.55 L667.39 356.19" stroke="#E64B35" fill="none"/>
<g class="mk" fill="#BE372F"><circle cx="391.11" cy="365.31" r="1.85"/><circle cx="400.64" cy="367.13" r="1.85"/><circle cx="410.17" cy="354.92" r="1.85"/><circle cx="419.69" cy="356.19" r="1.85"/><circle cx="429.22" cy="339.97" r="1.85"/><circle cx="438.75" cy="340.15" r="1.85"/><circle cx="448.27" cy="334.5" r="1.85"/><circle cx="457.8" cy="339.24" r="1.85"/><circle cx="467.33" cy="347.44" r="1.85"/><circle cx="476.85" cy="356.74" r="1.85"/><circle cx="486.38" cy="360.39" r="1.85"/><circle cx="495.91" cy="368.95" r="1.85"/><circle cx="505.43" cy="370.78" r="1.85"/><circle cx="514.96" cy="376.43" r="1.85"/><circle cx="524.49" cy="385.54" r="1.85"/><circle cx="534.01" cy="385.72" r="1.85"/><circle cx="543.54" cy="388.28" r="1.85"/><circle cx="553.07" cy="385.91" r="1.85"/><circle cx="562.59" cy="372.96" r="1.85"/><circle cx="572.12" cy="370.41" r="1.85"/><circle cx="581.65" cy="372.05" r="1.85"/><circle cx="591.17" cy="370.23" r="1.85"/><circle cx="600.7" cy="371.32" r="1.85"/><circle cx="610.23" cy="374.06" r="1.85"/><circle cx="619.75" cy="364.21" r="1.85"/><circle cx="629.28" cy="358.38" r="1.85"/><circle cx="638.81" cy="358.02" r="1.85"/><circle cx="648.33" cy="356.56" r="1.85"/><circle cx="657.86" cy="354.55" r="1.85"/><circle cx="667.39" cy="356.19" r="1.85"/></g>
<path d="M391.11 463.38 L400.64 463.02 L410.17 464.47 L419.69 466.66 L429.22 468.3 L438.75 471.77 L448.27 471.95 L457.8 473.22 L467.33 473.04 L476.85 475.41 L486.38 476.14 L495.91 476.51 L505.43 479.6 L514.96 481.43 L524.49 483.8 L534.01 487.99 L543.54 492.55 L553.07 490.54 L562.59 490.18 L572.12 492 L581.65 493.28 L591.17 492.55 L600.7 491.27 L610.23 492.73 L619.75 491.27 L629.28 492.55 L638.81 493.82 L648.33 495.65 L657.86 496.38 L667.39 497.1" stroke="#D9B92E" fill="none"/>
<g class="mk" fill="#AD9420"><circle cx="391.11" cy="463.38" r="1.85"/><circle cx="400.64" cy="463.02" r="1.85"/><circle cx="410.17" cy="464.47" r="1.85"/><circle cx="419.69" cy="466.66" r="1.85"/><circle cx="429.22" cy="468.3" r="1.85"/><circle cx="438.75" cy="471.77" r="1.85"/><circle cx="448.27" cy="471.95" r="1.85"/><circle cx="457.8" cy="473.22" r="1.85"/><circle cx="467.33" cy="473.04" r="1.85"/><circle cx="476.85" cy="475.41" r="1.85"/><circle cx="486.38" cy="476.14" r="1.85"/><circle cx="495.91" cy="476.51" r="1.85"/><circle cx="505.43" cy="479.6" r="1.85"/><circle cx="514.96" cy="481.43" r="1.85"/><circle cx="524.49" cy="483.8" r="1.85"/><circle cx="534.01" cy="487.99" r="1.85"/><circle cx="543.54" cy="492.55" r="1.85"/><circle cx="553.07" cy="490.54" r="1.85"/><circle cx="562.59" cy="490.18" r="1.85"/><circle cx="572.12" cy="492" r="1.85"/><circle cx="581.65" cy="493.28" r="1.85"/><circle cx="591.17" cy="492.55" r="1.85"/><circle cx="600.7" cy="491.27" r="1.85"/><circle cx="610.23" cy="492.73" r="1.85"/><circle cx="619.75" cy="491.27" r="1.85"/><circle cx="629.28" cy="492.55" r="1.85"/><circle cx="638.81" cy="493.82" r="1.85"/><circle cx="648.33" cy="495.65" r="1.85"/><circle cx="657.86" cy="496.38" r="1.85"/><circle cx="667.39" cy="497.1" r="1.85"/></g>
<path d="M391.11 529.55 L400.64 531.01 L410.17 532.1 L419.69 532.65 L429.22 533.38 L438.75 534.66 L448.27 536.3 L457.8 537.21 L467.33 538.12 L476.85 540.85 L486.38 542.49 L495.91 544.14 L505.43 544.68 L514.96 545.23 L524.49 544.86 L534.01 547.78 L543.54 548.88 L553.07 549.79 L562.59 548.33 L572.12 548.51 L581.65 549.06 L591.17 549.06 L600.7 548.15 L610.23 548.15 L619.75 549.06 L629.28 549.97 L638.81 551.06 L648.33 551.79 L657.86 552.52 L667.39 553.43" stroke="#634C3F" fill="none"/>
<g class="mk" fill="#44352E"><circle cx="391.11" cy="529.55" r="1.85"/><circle cx="400.64" cy="531.01" r="1.85"/><circle cx="410.17" cy="532.1" r="1.85"/><circle cx="419.69" cy="532.65" r="1.85"/><circle cx="429.22" cy="533.38" r="1.85"/><circle cx="438.75" cy="534.66" r="1.85"/><circle cx="448.27" cy="536.3" r="1.85"/><circle cx="457.8" cy="537.21" r="1.85"/><circle cx="467.33" cy="538.12" r="1.85"/><circle cx="476.85" cy="540.85" r="1.85"/><circle cx="486.38" cy="542.49" r="1.85"/><circle cx="495.91" cy="544.14" r="1.85"/><circle cx="505.43" cy="544.68" r="1.85"/><circle cx="514.96" cy="545.23" r="1.85"/><circle cx="524.49" cy="544.86" r="1.85"/><circle cx="534.01" cy="547.78" r="1.85"/><circle cx="543.54" cy="548.88" r="1.85"/><circle cx="553.07" cy="549.79" r="1.85"/><circle cx="562.59" cy="548.33" r="1.85"/><circle cx="572.12" cy="548.51" r="1.85"/><circle cx="581.65" cy="549.06" r="1.85"/><circle cx="591.17" cy="549.06" r="1.85"/><circle cx="600.7" cy="548.15" r="1.85"/><circle cx="610.23" cy="548.15" r="1.85"/><circle cx="619.75" cy="549.06" r="1.85"/><circle cx="629.28" cy="549.97" r="1.85"/><circle cx="638.81" cy="551.06" r="1.85"/><circle cx="648.33" cy="551.79" r="1.85"/><circle cx="657.86" cy="552.52" r="1.85"/><circle cx="667.39" cy="553.43" r="1.85"/></g>
</g>
<rect class="lgb" x="382.8" y="325.5" width="79.6" height="52.6" rx="0.8"/>
<g opacity="0.88"><path d="M384.7 330.88H400.5" stroke="#F19D88" stroke-width="1.1"/><circle class="mk1" cx="392.6" cy="330.88" r="1.85" fill="#CF867C"/></g>
<text class="lgt" x="405.6" y="333.38">Club 1</text>
<g opacity="0.88"><path d="M384.7 340.93H400.5" stroke="#4FB6CE" stroke-width="1.1"/><circle class="mk1" cx="392.6" cy="340.93" r="1.85" fill="#3A97AB"/></g>
<text class="lgt" x="405.6" y="343.43">Club 2</text>
<g opacity="0.88"><path d="M384.7 350.98H400.5" stroke="#E64B35" stroke-width="1.1"/><circle class="mk1" cx="392.6" cy="350.98" r="1.85" fill="#BE372F"/></g>
<text class="lgt" x="405.6" y="353.48">Diverging Group 3</text>
<g opacity="0.88"><path d="M384.7 361.03H400.5" stroke="#D9B92E" stroke-width="1.1"/><circle class="mk1" cx="392.6" cy="361.03" r="1.85" fill="#AD9420"/></g>
<text class="lgt" x="405.6" y="363.53">Diverging Group 4</text>
<g opacity="0.88"><path d="M384.7 371.08H400.5" stroke="#634C3F" stroke-width="1.1"/><circle class="mk1" cx="392.6" cy="371.08" r="1.85" fill="#44352E"/></g>
<text class="lgt" x="405.6" y="373.58">Diverging Group 5</text>
<path class="sp" d="M377.5 593.56V322H681.4"/>
<path class="sp2" d="M681.4 321.5V593.56H377"/>
<text class="yt" x="372" y="363.35">6.0%</text>
<text class="yt" x="372" y="405.28">5.0%</text>
<text class="yt" x="372" y="447.39">4.0%</text>
<text class="yt" x="372" y="489.5">3.0%</text>
<text class="yt" x="372" y="531.61">2.0%</text>
<text class="yt" x="372" y="573.71">1.0%</text>
<text class="xt" x="391.11" y="603.76">1990</text>
<text class="xt" x="486.38" y="603.76">2000</text>
<text class="xt" x="581.65" y="603.76">2010</text>
<text class="xt" x="667.39" y="603.76">2019</text>
<path class="tk" d="M377.5 360.75h-2.4M377.5 402.68h-2.4M377.5 444.79h-2.4M377.5 486.9h-2.4M377.5 529.01h-2.4M377.5 571.11h-2.4M391.11 593.56v2.4M486.38 593.56v2.4M581.65 593.56v2.4M667.39 593.56v2.4"/>
</g>
<g>
<text class="ttl" x="712.55" y="317.7">f. Oils and fats</text>
<g class="ser">
<path d="M726.26 334.32 L735.79 335.23 L745.32 336.69 L754.84 337.96 L764.37 339.79 L773.9 342.16 L783.42 344.34 L792.95 346.71 L802.48 349.81 L812 362.57 L821.53 369.32 L831.06 374.24 L840.58 380.44 L850.11 389.19 L859.64 398.12 L869.16 408.51 L878.69 412.34 L888.22 412.16 L897.74 404.32 L907.27 406.87 L916.8 410.88 L926.32 409.6 L935.85 410.88 L945.38 418.17 L954.9 417.99 L964.43 420.36 L973.96 422.91 L983.48 423.82 L993.01 425.28 L1002.54 427.1" stroke="#F19D88" fill="none"/>
<g class="mk" fill="#CF867C"><circle cx="726.26" cy="334.32" r="1.85"/><circle cx="735.79" cy="335.23" r="1.85"/><circle cx="745.32" cy="336.69" r="1.85"/><circle cx="754.84" cy="337.96" r="1.85"/><circle cx="764.37" cy="339.79" r="1.85"/><circle cx="773.9" cy="342.16" r="1.85"/><circle cx="783.42" cy="344.34" r="1.85"/><circle cx="792.95" cy="346.71" r="1.85"/><circle cx="802.48" cy="349.81" r="1.85"/><circle cx="812" cy="362.57" r="1.85"/><circle cx="821.53" cy="369.32" r="1.85"/><circle cx="831.06" cy="374.24" r="1.85"/><circle cx="840.58" cy="380.44" r="1.85"/><circle cx="850.11" cy="389.19" r="1.85"/><circle cx="859.64" cy="398.12" r="1.85"/><circle cx="869.16" cy="408.51" r="1.85"/><circle cx="878.69" cy="412.34" r="1.85"/><circle cx="888.22" cy="412.16" r="1.85"/><circle cx="897.74" cy="404.32" r="1.85"/><circle cx="907.27" cy="406.87" r="1.85"/><circle cx="916.8" cy="410.88" r="1.85"/><circle cx="926.32" cy="409.6" r="1.85"/><circle cx="935.85" cy="410.88" r="1.85"/><circle cx="945.38" cy="418.17" r="1.85"/><circle cx="954.9" cy="417.99" r="1.85"/><circle cx="964.43" cy="420.36" r="1.85"/><circle cx="973.96" cy="422.91" r="1.85"/><circle cx="983.48" cy="423.82" r="1.85"/><circle cx="993.01" cy="425.28" r="1.85"/><circle cx="1002.54" cy="427.1" r="1.85"/></g>
<path d="M726.26 499.66 L735.79 500.93 L745.32 500.39 L754.84 503.3 L764.37 507.49 L773.9 511.14 L783.42 512.42 L792.95 518.43 L802.48 517.89 L812 523.54 L821.53 532.1 L831.06 538.85 L840.58 537.03 L850.11 538.67 L859.64 544.86 L869.16 552.16 L878.69 559.63 L888.22 560.54 L897.74 557.44 L907.27 562.73 L916.8 566.92 L926.32 566.56 L935.85 567.47 L945.38 572.94 L954.9 576.22 L964.43 577.68 L973.96 577.31 L983.48 579.14 L993.01 580.41 L1002.54 581.32" stroke="#4FB6CE" fill="none"/>
<g class="mk" fill="#3A97AB"><circle cx="726.26" cy="499.66" r="1.85"/><circle cx="735.79" cy="500.93" r="1.85"/><circle cx="745.32" cy="500.39" r="1.85"/><circle cx="754.84" cy="503.3" r="1.85"/><circle cx="764.37" cy="507.49" r="1.85"/><circle cx="773.9" cy="511.14" r="1.85"/><circle cx="783.42" cy="512.42" r="1.85"/><circle cx="792.95" cy="518.43" r="1.85"/><circle cx="802.48" cy="517.89" r="1.85"/><circle cx="812" cy="523.54" r="1.85"/><circle cx="821.53" cy="532.1" r="1.85"/><circle cx="831.06" cy="538.85" r="1.85"/><circle cx="840.58" cy="537.03" r="1.85"/><circle cx="850.11" cy="538.67" r="1.85"/><circle cx="859.64" cy="544.86" r="1.85"/><circle cx="869.16" cy="552.16" r="1.85"/><circle cx="878.69" cy="559.63" r="1.85"/><circle cx="888.22" cy="560.54" r="1.85"/><circle cx="897.74" cy="557.44" r="1.85"/><circle cx="907.27" cy="562.73" r="1.85"/><circle cx="916.8" cy="566.92" r="1.85"/><circle cx="926.32" cy="566.56" r="1.85"/><circle cx="935.85" cy="567.47" r="1.85"/><circle cx="945.38" cy="572.94" r="1.85"/><circle cx="954.9" cy="576.22" r="1.85"/><circle cx="964.43" cy="577.68" r="1.85"/><circle cx="973.96" cy="577.31" r="1.85"/><circle cx="983.48" cy="579.14" r="1.85"/><circle cx="993.01" cy="580.41" r="1.85"/><circle cx="1002.54" cy="581.32" r="1.85"/></g>
</g>
<rect class="lgb" x="717.95" y="325.5" width="79.6" height="22.45" rx="0.8"/>
<g opacity="0.88"><path d="M719.85 330.88H735.65" stroke="#F19D88" stroke-width="1.1"/><circle class="mk1" cx="727.75" cy="330.88" r="1.85" fill="#CF867C"/></g>
<text class="lgt" x="740.75" y="333.38">Diverging Group 1</text>
<g opacity="0.88"><path d="M719.85 340.93H735.65" stroke="#4FB6CE" stroke-width="1.1"/><circle class="mk1" cx="727.75" cy="340.93" r="1.85" fill="#3A97AB"/></g>
<text class="lgt" x="740.75" y="343.43">Diverging Group 2</text>
<path class="sp" d="M712.65 593.56V322H1016.55"/>
<path class="sp2" d="M1016.55 321.5V593.56H712.15"/>
<text class="yt" x="707.15" y="358.98">2.0%</text>
<text class="yt" x="707.15" y="395.07">1.7%</text>
<text class="yt" x="707.15" y="431.16">1.5%</text>
<text class="yt" x="707.15" y="467.44">1.2%</text>
<text class="yt" x="707.15" y="503.53">1.0%</text>
<text class="yt" x="707.15" y="539.81">0.8%</text>
<text class="yt" x="707.15" y="575.9">0.5%</text>
<text class="xt" x="726.26" y="603.76">1990</text>
<text class="xt" x="821.53" y="603.76">2000</text>
<text class="xt" x="916.8" y="603.76">2010</text>
<text class="xt" x="1002.54" y="603.76">2019</text>
<path class="tk" d="M712.65 356.38h-2.4M712.65 392.47h-2.4M712.65 428.56h-2.4M712.65 464.84h-2.4M712.65 500.93h-2.4M712.65 537.21h-2.4M712.65 573.3h-2.4M726.26 593.56v2.4M821.53 593.56v2.4M916.8 593.56v2.4M1002.54 593.56v2.4"/>
</g>
<g>
<text class="ttl" x="42.35" y="620.7">g. Fruit</text>
<g class="ser">
<path d="M56.06 643.7 L65.59 642.24 L75.12 640.42 L84.64 638.96 L94.17 637.68 L103.7 637.5 L113.22 637.68 L122.75 647.89 L132.28 650.08 L141.8 670.31 L151.33 677.06 L160.86 681.25 L170.38 681.8 L179.91 686.17 L189.44 699.66 L198.96 701.12 L208.49 698.57 L218.02 686.72 L227.54 681.43 L237.07 684.9 L246.6 683.44 L256.12 679.97 L265.65 677.24 L275.18 678.33 L284.7 673.05 L294.23 666.67 L303.76 666.85 L313.28 669.4 L322.81 666.3 L332.34 670.49" stroke="#F19D88" fill="none"/>
<g class="mk" fill="#CF867C"><circle cx="56.06" cy="643.7" r="1.85"/><circle cx="65.59" cy="642.24" r="1.85"/><circle cx="75.12" cy="640.42" r="1.85"/><circle cx="84.64" cy="638.96" r="1.85"/><circle cx="94.17" cy="637.68" r="1.85"/><circle cx="103.7" cy="637.5" r="1.85"/><circle cx="113.22" cy="637.68" r="1.85"/><circle cx="122.75" cy="647.89" r="1.85"/><circle cx="132.28" cy="650.08" r="1.85"/><circle cx="141.8" cy="670.31" r="1.85"/><circle cx="151.33" cy="677.06" r="1.85"/><circle cx="160.86" cy="681.25" r="1.85"/><circle cx="170.38" cy="681.8" r="1.85"/><circle cx="179.91" cy="686.17" r="1.85"/><circle cx="189.44" cy="699.66" r="1.85"/><circle cx="198.96" cy="701.12" r="1.85"/><circle cx="208.49" cy="698.57" r="1.85"/><circle cx="218.02" cy="686.72" r="1.85"/><circle cx="227.54" cy="681.43" r="1.85"/><circle cx="237.07" cy="684.9" r="1.85"/><circle cx="246.6" cy="683.44" r="1.85"/><circle cx="256.12" cy="679.97" r="1.85"/><circle cx="265.65" cy="677.24" r="1.85"/><circle cx="275.18" cy="678.33" r="1.85"/><circle cx="284.7" cy="673.05" r="1.85"/><circle cx="294.23" cy="666.67" r="1.85"/><circle cx="303.76" cy="666.85" r="1.85"/><circle cx="313.28" cy="669.4" r="1.85"/><circle cx="322.81" cy="666.3" r="1.85"/><circle cx="332.34" cy="670.49" r="1.85"/></g>
<path d="M56.06 811.95 L65.59 812.86 L75.12 816.15 L84.64 821.07 L94.17 824.53 L103.7 829.09 L113.22 834.56 L122.75 838.75 L132.28 841.67 L141.8 845.31 L151.33 850.78 L160.86 852.24 L170.38 854.06 L179.91 856.43 L189.44 862.08 L198.96 867.37 L208.49 870.47 L218.02 871.93 L227.54 874.66 L237.07 877.76 L246.6 877.21 L256.12 880.13 L265.65 881.77 L275.18 883.05 L284.7 881.95 L294.23 879.95 L303.76 879.77 L313.28 881.95 L322.81 881.95 L332.34 884.32" stroke="#4FB6CE" fill="none"/>
<g class="mk" fill="#3A97AB"><circle cx="56.06" cy="811.95" r="1.85"/><circle cx="65.59" cy="812.86" r="1.85"/><circle cx="75.12" cy="816.15" r="1.85"/><circle cx="84.64" cy="821.07" r="1.85"/><circle cx="94.17" cy="824.53" r="1.85"/><circle cx="103.7" cy="829.09" r="1.85"/><circle cx="113.22" cy="834.56" r="1.85"/><circle cx="122.75" cy="838.75" r="1.85"/><circle cx="132.28" cy="841.67" r="1.85"/><circle cx="141.8" cy="845.31" r="1.85"/><circle cx="151.33" cy="850.78" r="1.85"/><circle cx="160.86" cy="852.24" r="1.85"/><circle cx="170.38" cy="854.06" r="1.85"/><circle cx="179.91" cy="856.43" r="1.85"/><circle cx="189.44" cy="862.08" r="1.85"/><circle cx="198.96" cy="867.37" r="1.85"/><circle cx="208.49" cy="870.47" r="1.85"/><circle cx="218.02" cy="871.93" r="1.85"/><circle cx="227.54" cy="874.66" r="1.85"/><circle cx="237.07" cy="877.76" r="1.85"/><circle cx="246.6" cy="877.21" r="1.85"/><circle cx="256.12" cy="880.13" r="1.85"/><circle cx="265.65" cy="881.77" r="1.85"/><circle cx="275.18" cy="883.05" r="1.85"/><circle cx="284.7" cy="881.95" r="1.85"/><circle cx="294.23" cy="879.95" r="1.85"/><circle cx="303.76" cy="879.77" r="1.85"/><circle cx="313.28" cy="881.95" r="1.85"/><circle cx="322.81" cy="881.95" r="1.85"/><circle cx="332.34" cy="884.32" r="1.85"/></g>
</g>
<rect class="lgb" x="47.75" y="628.5" width="79.6" height="22.45" rx="0.8"/>
<g opacity="0.88"><path d="M49.65 633.88H65.45" stroke="#F19D88" stroke-width="1.1"/><circle class="mk1" cx="57.55" cy="633.88" r="1.85" fill="#CF867C"/></g>
<text class="lgt" x="70.55" y="636.38">Club 1</text>
<g opacity="0.88"><path d="M49.65 643.93H65.45" stroke="#4FB6CE" stroke-width="1.1"/><circle class="mk1" cx="57.55" cy="643.93" r="1.85" fill="#3A97AB"/></g>
<text class="lgt" x="70.55" y="646.43">Diverging Group 2</text>
<path class="sp" d="M42.45 896.56V625H346.35"/>
<path class="sp2" d="M346.35 624.5V896.56H41.95"/>
<text class="yt" x="36.95" y="630.8">2.6%</text>
<text class="yt" x="36.95" y="664.16">2.4%</text>
<text class="yt" x="36.95" y="697.34">2.2%</text>
<text class="yt" x="36.95" y="730.52">2.0%</text>
<text class="yt" x="36.95" y="763.69">1.8%</text>
<text class="yt" x="36.95" y="796.87">1.6%</text>
<text class="yt" x="36.95" y="830.05">1.4%</text>
<text class="yt" x="36.95" y="863.23">1.2%</text>
<text class="yt" x="36.95" y="896.4">1.0%</text>
<text class="xt" x="56.06" y="906.76">1990</text>
<text class="xt" x="151.33" y="906.76">2000</text>
<text class="xt" x="246.6" y="906.76">2010</text>
<text class="xt" x="332.34" y="906.76">2019</text>
<path class="tk" d="M42.45 628.2h-2.4M42.45 661.56h-2.4M42.45 694.74h-2.4M42.45 727.92h-2.4M42.45 761.09h-2.4M42.45 794.27h-2.4M42.45 827.45h-2.4M42.45 860.62h-2.4M42.45 893.8h-2.4M56.06 896.56v2.4M151.33 896.56v2.4M246.6 896.56v2.4M332.34 896.56v2.4"/>
<text class="yl" transform="translate(17.7 760.78) rotate(-90)">Average budget share</text>
</g>
<g>
<text class="ttl" x="377.4" y="620.7">h. Vegetables</text>
<g class="ser">
<path d="M391.11 812.68 L400.64 813.23 L410.17 813.59 L419.69 813.41 L429.22 813.78 L438.75 814.14 L448.27 813.96 L457.8 812.5 L467.33 813.05 L476.85 815.23 L486.38 815.42 L495.91 815.96 L505.43 817.06 L514.96 817.06 L524.49 814.51 L534.01 813.59 L543.54 810.86 L553.07 812.32 L562.59 814.51 L572.12 810.68 L581.65 806.3 L591.17 805.76 L600.7 806.12 L610.23 810.49 L619.75 804.48 L629.28 807.58 L638.81 809.04 L648.33 810.68 L657.86 811.41 L667.39 810.68" stroke="#F19D88" fill="none"/>
<g class="mk" fill="#CF867C"><circle cx="391.11" cy="812.68" r="1.85"/><circle cx="400.64" cy="813.23" r="1.85"/><circle cx="410.17" cy="813.59" r="1.85"/><circle cx="419.69" cy="813.41" r="1.85"/><circle cx="429.22" cy="813.78" r="1.85"/><circle cx="438.75" cy="814.14" r="1.85"/><circle cx="448.27" cy="813.96" r="1.85"/><circle cx="457.8" cy="812.5" r="1.85"/><circle cx="467.33" cy="813.05" r="1.85"/><circle cx="476.85" cy="815.23" r="1.85"/><circle cx="486.38" cy="815.42" r="1.85"/><circle cx="495.91" cy="815.96" r="1.85"/><circle cx="505.43" cy="817.06" r="1.85"/><circle cx="514.96" cy="817.06" r="1.85"/><circle cx="524.49" cy="814.51" r="1.85"/><circle cx="534.01" cy="813.59" r="1.85"/><circle cx="543.54" cy="810.86" r="1.85"/><circle cx="553.07" cy="812.32" r="1.85"/><circle cx="562.59" cy="814.51" r="1.85"/><circle cx="572.12" cy="810.68" r="1.85"/><circle cx="581.65" cy="806.3" r="1.85"/><circle cx="591.17" cy="805.76" r="1.85"/><circle cx="600.7" cy="806.12" r="1.85"/><circle cx="610.23" cy="810.49" r="1.85"/><circle cx="619.75" cy="804.48" r="1.85"/><circle cx="629.28" cy="807.58" r="1.85"/><circle cx="638.81" cy="809.04" r="1.85"/><circle cx="648.33" cy="810.68" r="1.85"/><circle cx="657.86" cy="811.41" r="1.85"/><circle cx="667.39" cy="810.68" r="1.85"/></g>
<path d="M391.11 877.58 L400.64 877.94 L410.17 878.49 L419.69 878.85 L429.22 879.04 L438.75 879.4 L448.27 879.58 L457.8 880.49 L467.33 880.68 L476.85 880.86 L486.38 881.22 L495.91 881.41 L505.43 881.59 L514.96 881.95 L524.49 882.5 L534.01 882.68 L543.54 882.68 L553.07 882.5 L562.59 883.23 L572.12 883.59 L581.65 883.41 L591.17 883.59 L600.7 883.78 L610.23 883.78 L619.75 883.78 L629.28 883.96 L638.81 883.96 L648.33 883.96 L657.86 884.32 L667.39 884.32" stroke="#4FB6CE" fill="none"/>
<g class="mk" fill="#3A97AB"><circle cx="391.11" cy="877.58" r="1.85"/><circle cx="400.64" cy="877.94" r="1.85"/><circle cx="410.17" cy="878.49" r="1.85"/><circle cx="419.69" cy="878.85" r="1.85"/><circle cx="429.22" cy="879.04" r="1.85"/><circle cx="438.75" cy="879.4" r="1.85"/><circle cx="448.27" cy="879.58" r="1.85"/><circle cx="457.8" cy="880.49" r="1.85"/><circle cx="467.33" cy="880.68" r="1.85"/><circle cx="476.85" cy="880.86" r="1.85"/><circle cx="486.38" cy="881.22" r="1.85"/><circle cx="495.91" cy="881.41" r="1.85"/><circle cx="505.43" cy="881.59" r="1.85"/><circle cx="514.96" cy="881.95" r="1.85"/><circle cx="524.49" cy="882.5" r="1.85"/><circle cx="534.01" cy="882.68" r="1.85"/><circle cx="543.54" cy="882.68" r="1.85"/><circle cx="553.07" cy="882.5" r="1.85"/><circle cx="562.59" cy="883.23" r="1.85"/><circle cx="572.12" cy="883.59" r="1.85"/><circle cx="581.65" cy="883.41" r="1.85"/><circle cx="591.17" cy="883.59" r="1.85"/><circle cx="600.7" cy="883.78" r="1.85"/><circle cx="610.23" cy="883.78" r="1.85"/><circle cx="619.75" cy="883.78" r="1.85"/><circle cx="629.28" cy="883.96" r="1.85"/><circle cx="638.81" cy="883.96" r="1.85"/><circle cx="648.33" cy="883.96" r="1.85"/><circle cx="657.86" cy="884.32" r="1.85"/><circle cx="667.39" cy="884.32" r="1.85"/></g>
<path d="M391.11 678.52 L400.64 678.7 L410.17 678.33 L419.69 679.43 L429.22 679.79 L438.75 681.43 L448.27 682.53 L457.8 683.07 L467.33 680.7 L476.85 682.34 L486.38 689.45 L495.91 679.43 L505.43 673.59 L514.96 672.5 L524.49 676.69 L534.01 672.86 L543.54 672.68 L553.07 668.85 L562.59 668.12 L572.12 663.2 L581.65 661.74 L591.17 657.01 L600.7 656.28 L610.23 655 L619.75 652.27 L629.28 644.97 L638.81 643.33 L648.33 637.5 L657.86 638.41 L667.39 638.78" stroke="#E64B35" fill="none"/>
<g class="mk" fill="#BE372F"><circle cx="391.11" cy="678.52" r="1.85"/><circle cx="400.64" cy="678.7" r="1.85"/><circle cx="410.17" cy="678.33" r="1.85"/><circle cx="419.69" cy="679.43" r="1.85"/><circle cx="429.22" cy="679.79" r="1.85"/><circle cx="438.75" cy="681.43" r="1.85"/><circle cx="448.27" cy="682.53" r="1.85"/><circle cx="457.8" cy="683.07" r="1.85"/><circle cx="467.33" cy="680.7" r="1.85"/><circle cx="476.85" cy="682.34" r="1.85"/><circle cx="486.38" cy="689.45" r="1.85"/><circle cx="495.91" cy="679.43" r="1.85"/><circle cx="505.43" cy="673.59" r="1.85"/><circle cx="514.96" cy="672.5" r="1.85"/><circle cx="524.49" cy="676.69" r="1.85"/><circle cx="534.01" cy="672.86" r="1.85"/><circle cx="543.54" cy="672.68" r="1.85"/><circle cx="553.07" cy="668.85" r="1.85"/><circle cx="562.59" cy="668.12" r="1.85"/><circle cx="572.12" cy="663.2" r="1.85"/><circle cx="581.65" cy="661.74" r="1.85"/><circle cx="591.17" cy="657.01" r="1.85"/><circle cx="600.7" cy="656.28" r="1.85"/><circle cx="610.23" cy="655" r="1.85"/><circle cx="619.75" cy="652.27" r="1.85"/><circle cx="629.28" cy="644.97" r="1.85"/><circle cx="638.81" cy="643.33" r="1.85"/><circle cx="648.33" cy="637.5" r="1.85"/><circle cx="657.86" cy="638.41" r="1.85"/><circle cx="667.39" cy="638.78" r="1.85"/></g>
<path d="M391.11 845.49 L400.64 845.68 L410.17 845.31 L419.69 845.86 L429.22 844.95 L438.75 844.4 L448.27 844.4 L457.8 846.59 L467.33 846.59 L476.85 849.32 L486.38 850.96 L495.91 852.06 L505.43 852.6 L514.96 853.52 L524.49 854.61 L534.01 855.34 L543.54 854.79 L553.07 854.79 L562.59 854.61 L572.12 855.16 L581.65 855.89 L591.17 855.7 L600.7 856.8 L610.23 857.53 L619.75 857.53 L629.28 857.16 L638.81 857.34 L648.33 857.34 L657.86 857.34 L667.39 857.71" stroke="#D9B92E" fill="none"/>
<g class="mk" fill="#AD9420"><circle cx="391.11" cy="845.49" r="1.85"/><circle cx="400.64" cy="845.68" r="1.85"/><circle cx="410.17" cy="845.31" r="1.85"/><circle cx="419.69" cy="845.86" r="1.85"/><circle cx="429.22" cy="844.95" r="1.85"/><circle cx="438.75" cy="844.4" r="1.85"/><circle cx="448.27" cy="844.4" r="1.85"/><circle cx="457.8" cy="846.59" r="1.85"/><circle cx="467.33" cy="846.59" r="1.85"/><circle cx="476.85" cy="849.32" r="1.85"/><circle cx="486.38" cy="850.96" r="1.85"/><circle cx="495.91" cy="852.06" r="1.85"/><circle cx="505.43" cy="852.6" r="1.85"/><circle cx="514.96" cy="853.52" r="1.85"/><circle cx="524.49" cy="854.61" r="1.85"/><circle cx="534.01" cy="855.34" r="1.85"/><circle cx="543.54" cy="854.79" r="1.85"/><circle cx="553.07" cy="854.79" r="1.85"/><circle cx="562.59" cy="854.61" r="1.85"/><circle cx="572.12" cy="855.16" r="1.85"/><circle cx="581.65" cy="855.89" r="1.85"/><circle cx="591.17" cy="855.7" r="1.85"/><circle cx="600.7" cy="856.8" r="1.85"/><circle cx="610.23" cy="857.53" r="1.85"/><circle cx="619.75" cy="857.53" r="1.85"/><circle cx="629.28" cy="857.16" r="1.85"/><circle cx="638.81" cy="857.34" r="1.85"/><circle cx="648.33" cy="857.34" r="1.85"/><circle cx="657.86" cy="857.34" r="1.85"/><circle cx="667.39" cy="857.71" r="1.85"/></g>
</g>
<rect class="lgb" x="382.8" y="628.5" width="79.6" height="42.55" rx="0.8"/>
<g opacity="0.88"><path d="M384.7 633.88H400.5" stroke="#F19D88" stroke-width="1.1"/><circle class="mk1" cx="392.6" cy="633.88" r="1.85" fill="#CF867C"/></g>
<text class="lgt" x="405.6" y="636.38">Club 1</text>
<g opacity="0.88"><path d="M384.7 643.93H400.5" stroke="#4FB6CE" stroke-width="1.1"/><circle class="mk1" cx="392.6" cy="643.93" r="1.85" fill="#3A97AB"/></g>
<text class="lgt" x="405.6" y="646.43">Club 2</text>
<g opacity="0.88"><path d="M384.7 653.98H400.5" stroke="#E64B35" stroke-width="1.1"/><circle class="mk1" cx="392.6" cy="653.98" r="1.85" fill="#BE372F"/></g>
<text class="lgt" x="405.6" y="656.48">Diverging Group 3</text>
<g opacity="0.88"><path d="M384.7 664.02H400.5" stroke="#D9B92E" stroke-width="1.1"/><circle class="mk1" cx="392.6" cy="664.02" r="1.85" fill="#AD9420"/></g>
<text class="lgt" x="405.6" y="666.52">Diverging Group 4</text>
<path class="sp" d="M377.5 896.56V625H681.4"/>
<path class="sp2" d="M681.4 624.5V896.56H377"/>
<text class="yt" x="372" y="646.48">20.0%</text>
<text class="yt" x="372" y="678.75">17.5%</text>
<text class="yt" x="372" y="711.01">15.0%</text>
<text class="yt" x="372" y="743.09">12.5%</text>
<text class="yt" x="372" y="775.36">10.0%</text>
<text class="yt" x="372" y="807.44">7.5%</text>
<text class="yt" x="372" y="839.71">5.0%</text>
<text class="yt" x="372" y="871.79">2.5%</text>
<text class="xt" x="391.11" y="906.76">1990</text>
<text class="xt" x="486.38" y="906.76">2000</text>
<text class="xt" x="581.65" y="906.76">2010</text>
<text class="xt" x="667.39" y="906.76">2019</text>
<path class="tk" d="M377.5 643.88h-2.4M377.5 676.15h-2.4M377.5 708.41h-2.4M377.5 740.49h-2.4M377.5 772.76h-2.4M377.5 804.84h-2.4M377.5 837.11h-2.4M377.5 869.19h-2.4M391.11 896.56v2.4M486.38 896.56v2.4M581.65 896.56v2.4M667.39 896.56v2.4"/>
</g>
<g>
<text class="ttl" x="712.55" y="620.7">i. Sugar and confectionery</text>
<g class="ser">
<path d="M726.26 776.41 L735.79 777.86 L745.32 781.15 L754.84 780.96 L764.37 782.6 L773.9 786.61 L783.42 789.53 L792.95 793.91 L802.48 795.73 L812 799.92 L821.53 803.93 L831.06 805.39 L840.58 807.4 L850.11 808.67 L859.64 811.95 L869.16 814.32 L878.69 817.6 L888.22 819.43 L897.74 821.25 L907.27 821.98 L916.8 823.44 L926.32 823.8 L935.85 823.62 L945.38 825.62 L954.9 826.72 L964.43 826.54 L973.96 827.08 L983.48 827.81 L993.01 829.82 L1002.54 830.18" stroke="#F19D88" fill="none"/>
<g class="mk" fill="#CF867C"><circle cx="726.26" cy="776.41" r="1.85"/><circle cx="735.79" cy="777.86" r="1.85"/><circle cx="745.32" cy="781.15" r="1.85"/><circle cx="754.84" cy="780.96" r="1.85"/><circle cx="764.37" cy="782.6" r="1.85"/><circle cx="773.9" cy="786.61" r="1.85"/><circle cx="783.42" cy="789.53" r="1.85"/><circle cx="792.95" cy="793.91" r="1.85"/><circle cx="802.48" cy="795.73" r="1.85"/><circle cx="812" cy="799.92" r="1.85"/><circle cx="821.53" cy="803.93" r="1.85"/><circle cx="831.06" cy="805.39" r="1.85"/><circle cx="840.58" cy="807.4" r="1.85"/><circle cx="850.11" cy="808.67" r="1.85"/><circle cx="859.64" cy="811.95" r="1.85"/><circle cx="869.16" cy="814.32" r="1.85"/><circle cx="878.69" cy="817.6" r="1.85"/><circle cx="888.22" cy="819.43" r="1.85"/><circle cx="897.74" cy="821.25" r="1.85"/><circle cx="907.27" cy="821.98" r="1.85"/><circle cx="916.8" cy="823.44" r="1.85"/><circle cx="926.32" cy="823.8" r="1.85"/><circle cx="935.85" cy="823.62" r="1.85"/><circle cx="945.38" cy="825.62" r="1.85"/><circle cx="954.9" cy="826.72" r="1.85"/><circle cx="964.43" cy="826.54" r="1.85"/><circle cx="973.96" cy="827.08" r="1.85"/><circle cx="983.48" cy="827.81" r="1.85"/><circle cx="993.01" cy="829.82" r="1.85"/><circle cx="1002.54" cy="830.18" r="1.85"/></g>
<path d="M726.26 776.22 L735.79 777.68 L745.32 781.33 L754.84 780.78 L764.37 787.53 L773.9 790.62 L783.42 793.72 L792.95 800.65 L802.48 802.47 L812 809.95 L821.53 815.23 L831.06 819.24 L840.58 826.35 L850.11 831.64 L859.64 832.19 L869.16 834.38 L878.69 836.2 L888.22 841.85 L897.74 849.14 L907.27 848.41 L916.8 851.15 L926.32 857.16 L935.85 865.18 L945.38 872.11 L954.9 872.11 L964.43 877.76 L973.96 879.4 L983.48 881.04 L993.01 883.23 L1002.54 884.32" stroke="#4FB6CE" fill="none"/>
<g class="mk" fill="#3A97AB"><circle cx="726.26" cy="776.22" r="1.85"/><circle cx="735.79" cy="777.68" r="1.85"/><circle cx="745.32" cy="781.33" r="1.85"/><circle cx="754.84" cy="780.78" r="1.85"/><circle cx="764.37" cy="787.53" r="1.85"/><circle cx="773.9" cy="790.62" r="1.85"/><circle cx="783.42" cy="793.72" r="1.85"/><circle cx="792.95" cy="800.65" r="1.85"/><circle cx="802.48" cy="802.47" r="1.85"/><circle cx="812" cy="809.95" r="1.85"/><circle cx="821.53" cy="815.23" r="1.85"/><circle cx="831.06" cy="819.24" r="1.85"/><circle cx="840.58" cy="826.35" r="1.85"/><circle cx="850.11" cy="831.64" r="1.85"/><circle cx="859.64" cy="832.19" r="1.85"/><circle cx="869.16" cy="834.38" r="1.85"/><circle cx="878.69" cy="836.2" r="1.85"/><circle cx="888.22" cy="841.85" r="1.85"/><circle cx="897.74" cy="849.14" r="1.85"/><circle cx="907.27" cy="848.41" r="1.85"/><circle cx="916.8" cy="851.15" r="1.85"/><circle cx="926.32" cy="857.16" r="1.85"/><circle cx="935.85" cy="865.18" r="1.85"/><circle cx="945.38" cy="872.11" r="1.85"/><circle cx="954.9" cy="872.11" r="1.85"/><circle cx="964.43" cy="877.76" r="1.85"/><circle cx="973.96" cy="879.4" r="1.85"/><circle cx="983.48" cy="881.04" r="1.85"/><circle cx="993.01" cy="883.23" r="1.85"/><circle cx="1002.54" cy="884.32" r="1.85"/></g>
<path d="M726.26 665.03 L735.79 665.21 L745.32 657.37 L754.84 662.11 L764.37 639.69 L773.9 642.79 L783.42 637.5 L792.95 641.51 L802.48 649.35 L812 659.74 L821.53 663.93 L831.06 677.6 L840.58 684.35 L850.11 693.1 L859.64 702.94 L869.16 708.96 L878.69 701.85 L888.22 710.6 L897.74 712.6 L907.27 706.59 L916.8 696.93 L926.32 683.8 L935.85 686.17 L945.38 689.27 L954.9 687.63 L964.43 675.23 L973.96 669.04 L983.48 670.31 L993.01 669.22 L1002.54 671.95" stroke="#E64B35" fill="none"/>
<g class="mk" fill="#BE372F"><circle cx="726.26" cy="665.03" r="1.85"/><circle cx="735.79" cy="665.21" r="1.85"/><circle cx="745.32" cy="657.37" r="1.85"/><circle cx="754.84" cy="662.11" r="1.85"/><circle cx="764.37" cy="639.69" r="1.85"/><circle cx="773.9" cy="642.79" r="1.85"/><circle cx="783.42" cy="637.5" r="1.85"/><circle cx="792.95" cy="641.51" r="1.85"/><circle cx="802.48" cy="649.35" r="1.85"/><circle cx="812" cy="659.74" r="1.85"/><circle cx="821.53" cy="663.93" r="1.85"/><circle cx="831.06" cy="677.6" r="1.85"/><circle cx="840.58" cy="684.35" r="1.85"/><circle cx="850.11" cy="693.1" r="1.85"/><circle cx="859.64" cy="702.94" r="1.85"/><circle cx="869.16" cy="708.96" r="1.85"/><circle cx="878.69" cy="701.85" r="1.85"/><circle cx="888.22" cy="710.6" r="1.85"/><circle cx="897.74" cy="712.6" r="1.85"/><circle cx="907.27" cy="706.59" r="1.85"/><circle cx="916.8" cy="696.93" r="1.85"/><circle cx="926.32" cy="683.8" r="1.85"/><circle cx="935.85" cy="686.17" r="1.85"/><circle cx="945.38" cy="689.27" r="1.85"/><circle cx="954.9" cy="687.63" r="1.85"/><circle cx="964.43" cy="675.23" r="1.85"/><circle cx="973.96" cy="669.04" r="1.85"/><circle cx="983.48" cy="670.31" r="1.85"/><circle cx="993.01" cy="669.22" r="1.85"/><circle cx="1002.54" cy="671.95" r="1.85"/></g>
</g>
<rect class="lgb" x="717.95" y="628.5" width="79.6" height="32.5" rx="0.8"/>
<g opacity="0.88"><path d="M719.85 633.88H735.65" stroke="#F19D88" stroke-width="1.1"/><circle class="mk1" cx="727.75" cy="633.88" r="1.85" fill="#CF867C"/></g>
<text class="lgt" x="740.75" y="636.38">Club 1</text>
<g opacity="0.88"><path d="M719.85 643.93H735.65" stroke="#4FB6CE" stroke-width="1.1"/><circle class="mk1" cx="727.75" cy="643.93" r="1.85" fill="#3A97AB"/></g>
<text class="lgt" x="740.75" y="646.43">Club 2</text>
<g opacity="0.88"><path d="M719.85 653.98H735.65" stroke="#E64B35" stroke-width="1.1"/><circle class="mk1" cx="727.75" cy="653.98" r="1.85" fill="#BE372F"/></g>
<text class="lgt" x="740.75" y="656.48">Diverging Group 3</text>
<path class="sp" d="M712.65 896.56V625H1016.55"/>
<path class="sp2" d="M1016.55 624.5V896.56H712.15"/>
<text class="yt" x="707.15" y="635">3.0%</text>
<text class="yt" x="707.15" y="685.13">2.5%</text>
<text class="yt" x="707.15" y="735.44">2.0%</text>
<text class="yt" x="707.15" y="785.75">1.5%</text>
<text class="yt" x="707.15" y="835.88">1.0%</text>
<text class="yt" x="707.15" y="886.19">0.5%</text>
<text class="xt" x="726.26" y="906.76">1990</text>
<text class="xt" x="821.53" y="906.76">2000</text>
<text class="xt" x="916.8" y="906.76">2010</text>
<text class="xt" x="1002.54" y="906.76">2019</text>
<path class="tk" d="M712.65 632.4h-2.4M712.65 682.53h-2.4M712.65 732.84h-2.4M712.65 783.15h-2.4M712.65 833.28h-2.4M712.65 883.59h-2.4M726.26 896.56v2.4M821.53 896.56v2.4M916.8 896.56v2.4M1002.54 896.56v2.4"/>
</g>
<g>
<text class="ttl" x="42.35" y="923.7">j. Coffee, tea, and cocoa</text>
<g class="ser">
<path d="M56.06 1124.25 L65.59 1125.53 L75.12 1126.07 L84.64 1124.98 L94.17 1128.99 L103.7 1130.08 L113.22 1130.63 L122.75 1136.28 L132.28 1139.02 L141.8 1140.84 L151.33 1142.66 L160.86 1152.51 L170.38 1159.61 L179.91 1163.08 L189.44 1164.17 L198.96 1166.18 L208.49 1165.99 L218.02 1168.36 L227.54 1170.73 L237.07 1173.65 L246.6 1175.11 L256.12 1177.48 L265.65 1178.57 L275.18 1180.58 L284.7 1183.13 L294.23 1185.32 L303.76 1186.23 L313.28 1186.23 L322.81 1186.59 L332.34 1187.32" stroke="#F19D88" fill="none"/>
<g class="mk" fill="#CF867C"><circle cx="56.06" cy="1124.25" r="1.85"/><circle cx="65.59" cy="1125.53" r="1.85"/><circle cx="75.12" cy="1126.07" r="1.85"/><circle cx="84.64" cy="1124.98" r="1.85"/><circle cx="94.17" cy="1128.99" r="1.85"/><circle cx="103.7" cy="1130.08" r="1.85"/><circle cx="113.22" cy="1130.63" r="1.85"/><circle cx="122.75" cy="1136.28" r="1.85"/><circle cx="132.28" cy="1139.02" r="1.85"/><circle cx="141.8" cy="1140.84" r="1.85"/><circle cx="151.33" cy="1142.66" r="1.85"/><circle cx="160.86" cy="1152.51" r="1.85"/><circle cx="170.38" cy="1159.61" r="1.85"/><circle cx="179.91" cy="1163.08" r="1.85"/><circle cx="189.44" cy="1164.17" r="1.85"/><circle cx="198.96" cy="1166.18" r="1.85"/><circle cx="208.49" cy="1165.99" r="1.85"/><circle cx="218.02" cy="1168.36" r="1.85"/><circle cx="227.54" cy="1170.73" r="1.85"/><circle cx="237.07" cy="1173.65" r="1.85"/><circle cx="246.6" cy="1175.11" r="1.85"/><circle cx="256.12" cy="1177.48" r="1.85"/><circle cx="265.65" cy="1178.57" r="1.85"/><circle cx="275.18" cy="1180.58" r="1.85"/><circle cx="284.7" cy="1183.13" r="1.85"/><circle cx="294.23" cy="1185.32" r="1.85"/><circle cx="303.76" cy="1186.23" r="1.85"/><circle cx="313.28" cy="1186.23" r="1.85"/><circle cx="322.81" cy="1186.59" r="1.85"/><circle cx="332.34" cy="1187.32" r="1.85"/></g>
<path d="M56.06 1050.6 L65.59 1051.88 L75.12 1052.43 L84.64 1053.34 L94.17 1048.78 L103.7 1047.32 L113.22 1046.59 L122.75 1049.69 L132.28 1049.15 L141.8 1054.25 L151.33 1058.62 L160.86 1065.37 L170.38 1069.93 L179.91 1071.2 L189.44 1070.66 L198.96 1072.3 L208.49 1071.39 L218.02 1070.66 L227.54 1072.3 L237.07 1068.29 L246.6 1065.01 L256.12 1057.17 L265.65 1052.43 L275.18 1053.52 L284.7 1050.6 L294.23 1051.15 L303.76 1054.61 L313.28 1054.61 L322.81 1056.62 L332.34 1057.71" stroke="#4FB6CE" fill="none"/>
<g class="mk" fill="#3A97AB"><circle cx="56.06" cy="1050.6" r="1.85"/><circle cx="65.59" cy="1051.88" r="1.85"/><circle cx="75.12" cy="1052.43" r="1.85"/><circle cx="84.64" cy="1053.34" r="1.85"/><circle cx="94.17" cy="1048.78" r="1.85"/><circle cx="103.7" cy="1047.32" r="1.85"/><circle cx="113.22" cy="1046.59" r="1.85"/><circle cx="122.75" cy="1049.69" r="1.85"/><circle cx="132.28" cy="1049.15" r="1.85"/><circle cx="141.8" cy="1054.25" r="1.85"/><circle cx="151.33" cy="1058.62" r="1.85"/><circle cx="160.86" cy="1065.37" r="1.85"/><circle cx="170.38" cy="1069.93" r="1.85"/><circle cx="179.91" cy="1071.2" r="1.85"/><circle cx="189.44" cy="1070.66" r="1.85"/><circle cx="198.96" cy="1072.3" r="1.85"/><circle cx="208.49" cy="1071.39" r="1.85"/><circle cx="218.02" cy="1070.66" r="1.85"/><circle cx="227.54" cy="1072.3" r="1.85"/><circle cx="237.07" cy="1068.29" r="1.85"/><circle cx="246.6" cy="1065.01" r="1.85"/><circle cx="256.12" cy="1057.17" r="1.85"/><circle cx="265.65" cy="1052.43" r="1.85"/><circle cx="275.18" cy="1053.52" r="1.85"/><circle cx="284.7" cy="1050.6" r="1.85"/><circle cx="294.23" cy="1051.15" r="1.85"/><circle cx="303.76" cy="1054.61" r="1.85"/><circle cx="313.28" cy="1054.61" r="1.85"/><circle cx="322.81" cy="1056.62" r="1.85"/><circle cx="332.34" cy="1057.71" r="1.85"/></g>
<path d="M56.06 994.09 L65.59 978.6 L75.12 975.5 L84.64 975.32 L94.17 962.19 L103.7 950.34 L113.22 940.5 L122.75 952.71 L132.28 948.34 L141.8 953.26 L151.33 962.38 L160.86 964.74 L170.38 974.41 L179.91 991.91 L189.44 1017.97 L198.96 1024.9 L208.49 1036.02 L218.02 1041.31 L227.54 1049.15 L237.07 1050.6 L246.6 1054.07 L256.12 1054.25 L265.65 1057.17 L275.18 1055.89 L284.7 1053.52 L294.23 1050.24 L303.76 1047.51 L313.28 1054.61 L322.81 1056.44 L332.34 1058.08" stroke="#E64B35" fill="none"/>
<g class="mk" fill="#BE372F"><circle cx="56.06" cy="994.09" r="1.85"/><circle cx="65.59" cy="978.6" r="1.85"/><circle cx="75.12" cy="975.5" r="1.85"/><circle cx="84.64" cy="975.32" r="1.85"/><circle cx="94.17" cy="962.19" r="1.85"/><circle cx="103.7" cy="950.34" r="1.85"/><circle cx="113.22" cy="940.5" r="1.85"/><circle cx="122.75" cy="952.71" r="1.85"/><circle cx="132.28" cy="948.34" r="1.85"/><circle cx="141.8" cy="953.26" r="1.85"/><circle cx="151.33" cy="962.38" r="1.85"/><circle cx="160.86" cy="964.74" r="1.85"/><circle cx="170.38" cy="974.41" r="1.85"/><circle cx="179.91" cy="991.91" r="1.85"/><circle cx="189.44" cy="1017.97" r="1.85"/><circle cx="198.96" cy="1024.9" r="1.85"/><circle cx="208.49" cy="1036.02" r="1.85"/><circle cx="218.02" cy="1041.31" r="1.85"/><circle cx="227.54" cy="1049.15" r="1.85"/><circle cx="237.07" cy="1050.6" r="1.85"/><circle cx="246.6" cy="1054.07" r="1.85"/><circle cx="256.12" cy="1054.25" r="1.85"/><circle cx="265.65" cy="1057.17" r="1.85"/><circle cx="275.18" cy="1055.89" r="1.85"/><circle cx="284.7" cy="1053.52" r="1.85"/><circle cx="294.23" cy="1050.24" r="1.85"/><circle cx="303.76" cy="1047.51" r="1.85"/><circle cx="313.28" cy="1054.61" r="1.85"/><circle cx="322.81" cy="1056.44" r="1.85"/><circle cx="332.34" cy="1058.08" r="1.85"/></g>
<path d="M56.06 1023.44 L65.59 1029.64 L75.12 1038.21 L84.64 1051.33 L94.17 1035.47 L103.7 1031.65 L113.22 1037.48 L122.75 1029.46 L132.28 1025.81 L141.8 1040.94 L151.33 1039.12 L160.86 1050.97 L170.38 1068.1 L179.91 1071.57 L189.44 1081.78 L198.96 1082.87 L208.49 1094.35 L218.02 1095.27 L227.54 1101.83 L237.07 1094.54 L246.6 1104.56 L256.12 1110.03 L265.65 1104.38 L275.18 1110.21 L284.7 1118.23 L294.23 1114.95 L303.76 1113.68 L313.28 1121.7 L322.81 1119.15 L332.34 1117.87" stroke="#D9B92E" fill="none"/>
<g class="mk" fill="#AD9420"><circle cx="56.06" cy="1023.44" r="1.85"/><circle cx="65.59" cy="1029.64" r="1.85"/><circle cx="75.12" cy="1038.21" r="1.85"/><circle cx="84.64" cy="1051.33" r="1.85"/><circle cx="94.17" cy="1035.47" r="1.85"/><circle cx="103.7" cy="1031.65" r="1.85"/><circle cx="113.22" cy="1037.48" r="1.85"/><circle cx="122.75" cy="1029.46" r="1.85"/><circle cx="132.28" cy="1025.81" r="1.85"/><circle cx="141.8" cy="1040.94" r="1.85"/><circle cx="151.33" cy="1039.12" r="1.85"/><circle cx="160.86" cy="1050.97" r="1.85"/><circle cx="170.38" cy="1068.1" r="1.85"/><circle cx="179.91" cy="1071.57" r="1.85"/><circle cx="189.44" cy="1081.78" r="1.85"/><circle cx="198.96" cy="1082.87" r="1.85"/><circle cx="208.49" cy="1094.35" r="1.85"/><circle cx="218.02" cy="1095.27" r="1.85"/><circle cx="227.54" cy="1101.83" r="1.85"/><circle cx="237.07" cy="1094.54" r="1.85"/><circle cx="246.6" cy="1104.56" r="1.85"/><circle cx="256.12" cy="1110.03" r="1.85"/><circle cx="265.65" cy="1104.38" r="1.85"/><circle cx="275.18" cy="1110.21" r="1.85"/><circle cx="284.7" cy="1118.23" r="1.85"/><circle cx="294.23" cy="1114.95" r="1.85"/><circle cx="303.76" cy="1113.68" r="1.85"/><circle cx="313.28" cy="1121.7" r="1.85"/><circle cx="322.81" cy="1119.15" r="1.85"/><circle cx="332.34" cy="1117.87" r="1.85"/></g>
</g>
<rect class="lgb" x="47.75" y="931.5" width="79.6" height="42.55" rx="0.8"/>
<g opacity="0.88"><path d="M49.65 936.88H65.45" stroke="#F19D88" stroke-width="1.1"/><circle class="mk1" cx="57.55" cy="936.88" r="1.85" fill="#CF867C"/></g>
<text class="lgt" x="70.55" y="939.38">Club 1</text>
<g opacity="0.88"><path d="M49.65 946.93H65.45" stroke="#4FB6CE" stroke-width="1.1"/><circle class="mk1" cx="57.55" cy="946.93" r="1.85" fill="#3A97AB"/></g>
<text class="lgt" x="70.55" y="949.43">Diverging Group 2</text>
<g opacity="0.88"><path d="M49.65 956.98H65.45" stroke="#E64B35" stroke-width="1.1"/><circle class="mk1" cx="57.55" cy="956.98" r="1.85" fill="#BE372F"/></g>
<text class="lgt" x="70.55" y="959.48">Diverging Group 3</text>
<g opacity="0.88"><path d="M49.65 967.02H65.45" stroke="#D9B92E" stroke-width="1.1"/><circle class="mk1" cx="57.55" cy="967.02" r="1.85" fill="#AD9420"/></g>
<text class="lgt" x="70.55" y="969.52">Diverging Group 4</text>
<path class="sp" d="M42.45 1199.56V928H346.35"/>
<path class="sp2" d="M346.35 927.5V1199.56H41.95"/>
<text class="yt" x="36.95" y="953.31">1.0%</text>
<text class="yt" x="36.95" y="1010">0.8%</text>
<text class="yt" x="36.95" y="1066.33">0.6%</text>
<text class="yt" x="36.95" y="1123.02">0.4%</text>
<text class="yt" x="36.95" y="1179.71">0.2%</text>
<text class="xt" x="56.06" y="1209.76">1990</text>
<text class="xt" x="151.33" y="1209.76">2000</text>
<text class="xt" x="246.6" y="1209.76">2010</text>
<text class="xt" x="332.34" y="1209.76">2019</text>
<path class="tk" d="M42.45 950.71h-2.4M42.45 1007.4h-2.4M42.45 1063.73h-2.4M42.45 1120.42h-2.4M42.45 1177.11h-2.4M56.06 1199.56v2.4M151.33 1199.56v2.4M246.6 1199.56v2.4M332.34 1199.56v2.4"/>
<text class="yl" transform="translate(17.7 1063.78) rotate(-90)">Average budget share</text>
</g>
<g>
<text class="ttl" x="377.4" y="923.7">k. Mineral waters and soft drinks</text>
<g class="ser">
<path d="M391.11 1011.78 L400.64 1001.57 L410.17 999.56 L419.69 1004.67 L429.22 1006.85 L438.75 1010.86 L448.27 1011.23 L457.8 1006.31 L467.33 1008.31 L476.85 1008.13 L486.38 1005.58 L495.91 1011.23 L505.43 1012.14 L514.96 1009.95 L524.49 996.46 L534.01 994.82 L543.54 1004.48 L553.07 989.17 L562.59 999.74 L572.12 1007.22 L581.65 1006.49 L591.17 1011.23 L600.7 1010.32 L610.23 1013.6 L619.75 1028.36 L629.28 1023.81 L638.81 1018.89 L648.33 1020.16 L657.86 1021.98 L667.39 1022.53" stroke="#F19D88" fill="none"/>
<g class="mk" fill="#CF867C"><circle cx="391.11" cy="1011.78" r="1.85"/><circle cx="400.64" cy="1001.57" r="1.85"/><circle cx="410.17" cy="999.56" r="1.85"/><circle cx="419.69" cy="1004.67" r="1.85"/><circle cx="429.22" cy="1006.85" r="1.85"/><circle cx="438.75" cy="1010.86" r="1.85"/><circle cx="448.27" cy="1011.23" r="1.85"/><circle cx="457.8" cy="1006.31" r="1.85"/><circle cx="467.33" cy="1008.31" r="1.85"/><circle cx="476.85" cy="1008.13" r="1.85"/><circle cx="486.38" cy="1005.58" r="1.85"/><circle cx="495.91" cy="1011.23" r="1.85"/><circle cx="505.43" cy="1012.14" r="1.85"/><circle cx="514.96" cy="1009.95" r="1.85"/><circle cx="524.49" cy="996.46" r="1.85"/><circle cx="534.01" cy="994.82" r="1.85"/><circle cx="543.54" cy="1004.48" r="1.85"/><circle cx="553.07" cy="989.17" r="1.85"/><circle cx="562.59" cy="999.74" r="1.85"/><circle cx="572.12" cy="1007.22" r="1.85"/><circle cx="581.65" cy="1006.49" r="1.85"/><circle cx="591.17" cy="1011.23" r="1.85"/><circle cx="600.7" cy="1010.32" r="1.85"/><circle cx="610.23" cy="1013.6" r="1.85"/><circle cx="619.75" cy="1028.36" r="1.85"/><circle cx="629.28" cy="1023.81" r="1.85"/><circle cx="638.81" cy="1018.89" r="1.85"/><circle cx="648.33" cy="1020.16" r="1.85"/><circle cx="657.86" cy="1021.98" r="1.85"/><circle cx="667.39" cy="1022.53" r="1.85"/></g>
<path d="M391.11 1098.91 L400.64 1100.19 L410.17 1099.64 L419.69 1099.82 L429.22 1098.18 L438.75 1099.28 L448.27 1098.91 L457.8 1095.45 L467.33 1094.72 L476.85 1091.07 L486.38 1094.35 L495.91 1095.08 L505.43 1096.54 L514.96 1096.91 L524.49 1100.19 L534.01 1101.65 L543.54 1102.56 L553.07 1102.74 L562.59 1104.56 L572.12 1105.29 L581.65 1105.47 L591.17 1106.57 L600.7 1108.57 L610.23 1108.94 L619.75 1110.03 L629.28 1110.94 L638.81 1111.85 L648.33 1112.58 L657.86 1113.31 L667.39 1115.5" stroke="#4FB6CE" fill="none"/>
<g class="mk" fill="#3A97AB"><circle cx="391.11" cy="1098.91" r="1.85"/><circle cx="400.64" cy="1100.19" r="1.85"/><circle cx="410.17" cy="1099.64" r="1.85"/><circle cx="419.69" cy="1099.82" r="1.85"/><circle cx="429.22" cy="1098.18" r="1.85"/><circle cx="438.75" cy="1099.28" r="1.85"/><circle cx="448.27" cy="1098.91" r="1.85"/><circle cx="457.8" cy="1095.45" r="1.85"/><circle cx="467.33" cy="1094.72" r="1.85"/><circle cx="476.85" cy="1091.07" r="1.85"/><circle cx="486.38" cy="1094.35" r="1.85"/><circle cx="495.91" cy="1095.08" r="1.85"/><circle cx="505.43" cy="1096.54" r="1.85"/><circle cx="514.96" cy="1096.91" r="1.85"/><circle cx="524.49" cy="1100.19" r="1.85"/><circle cx="534.01" cy="1101.65" r="1.85"/><circle cx="543.54" cy="1102.56" r="1.85"/><circle cx="553.07" cy="1102.74" r="1.85"/><circle cx="562.59" cy="1104.56" r="1.85"/><circle cx="572.12" cy="1105.29" r="1.85"/><circle cx="581.65" cy="1105.47" r="1.85"/><circle cx="591.17" cy="1106.57" r="1.85"/><circle cx="600.7" cy="1108.57" r="1.85"/><circle cx="610.23" cy="1108.94" r="1.85"/><circle cx="619.75" cy="1110.03" r="1.85"/><circle cx="629.28" cy="1110.94" r="1.85"/><circle cx="638.81" cy="1111.85" r="1.85"/><circle cx="648.33" cy="1112.58" r="1.85"/><circle cx="657.86" cy="1113.31" r="1.85"/><circle cx="667.39" cy="1115.5" r="1.85"/></g>
<path d="M391.11 1137.19 L400.64 1139.2 L410.17 1139.56 L419.69 1138.65 L429.22 1140.47 L438.75 1142.66 L448.27 1146.12 L457.8 1148.13 L467.33 1151.41 L476.85 1152.69 L486.38 1154.33 L495.91 1161.26 L505.43 1165.08 L514.96 1167.64 L524.49 1165.99 L534.01 1168.36 L543.54 1168 L553.07 1167.64 L562.59 1170.37 L572.12 1175.47 L581.65 1177.11 L591.17 1180.58 L600.7 1184.77 L610.23 1184.59 L619.75 1183.86 L629.28 1185.5 L638.81 1186.41 L648.33 1186.41 L657.86 1187.32 L667.39 1187.32" stroke="#E64B35" fill="none"/>
<g class="mk" fill="#BE372F"><circle cx="391.11" cy="1137.19" r="1.85"/><circle cx="400.64" cy="1139.2" r="1.85"/><circle cx="410.17" cy="1139.56" r="1.85"/><circle cx="419.69" cy="1138.65" r="1.85"/><circle cx="429.22" cy="1140.47" r="1.85"/><circle cx="438.75" cy="1142.66" r="1.85"/><circle cx="448.27" cy="1146.12" r="1.85"/><circle cx="457.8" cy="1148.13" r="1.85"/><circle cx="467.33" cy="1151.41" r="1.85"/><circle cx="476.85" cy="1152.69" r="1.85"/><circle cx="486.38" cy="1154.33" r="1.85"/><circle cx="495.91" cy="1161.26" r="1.85"/><circle cx="505.43" cy="1165.08" r="1.85"/><circle cx="514.96" cy="1167.64" r="1.85"/><circle cx="524.49" cy="1165.99" r="1.85"/><circle cx="534.01" cy="1168.36" r="1.85"/><circle cx="543.54" cy="1168" r="1.85"/><circle cx="553.07" cy="1167.64" r="1.85"/><circle cx="562.59" cy="1170.37" r="1.85"/><circle cx="572.12" cy="1175.47" r="1.85"/><circle cx="581.65" cy="1177.11" r="1.85"/><circle cx="591.17" cy="1180.58" r="1.85"/><circle cx="600.7" cy="1184.77" r="1.85"/><circle cx="610.23" cy="1184.59" r="1.85"/><circle cx="619.75" cy="1183.86" r="1.85"/><circle cx="629.28" cy="1185.5" r="1.85"/><circle cx="638.81" cy="1186.41" r="1.85"/><circle cx="648.33" cy="1186.41" r="1.85"/><circle cx="657.86" cy="1187.32" r="1.85"/><circle cx="667.39" cy="1187.32" r="1.85"/></g>
<path d="M391.11 1017.61 L400.64 1016.15 L410.17 1012.87 L419.69 1011.78 L429.22 1002.66 L438.75 999.56 L448.27 997.01 L457.8 993 L467.33 992.09 L476.85 993.36 L486.38 987.35 L495.91 990.08 L505.43 985.89 L514.96 985.89 L524.49 985.89 L534.01 985.16 L543.54 981.52 L553.07 980.24 L562.59 977.69 L572.12 967.3 L581.65 961.65 L591.17 958.18 L600.7 952.53 L610.23 956.91 L619.75 945.6 L629.28 945.79 L638.81 945.79 L648.33 942.32 L657.86 941.59 L667.39 940.5" stroke="#D9B92E" fill="none"/>
<g class="mk" fill="#AD9420"><circle cx="391.11" cy="1017.61" r="1.85"/><circle cx="400.64" cy="1016.15" r="1.85"/><circle cx="410.17" cy="1012.87" r="1.85"/><circle cx="419.69" cy="1011.78" r="1.85"/><circle cx="429.22" cy="1002.66" r="1.85"/><circle cx="438.75" cy="999.56" r="1.85"/><circle cx="448.27" cy="997.01" r="1.85"/><circle cx="457.8" cy="993" r="1.85"/><circle cx="467.33" cy="992.09" r="1.85"/><circle cx="476.85" cy="993.36" r="1.85"/><circle cx="486.38" cy="987.35" r="1.85"/><circle cx="495.91" cy="990.08" r="1.85"/><circle cx="505.43" cy="985.89" r="1.85"/><circle cx="514.96" cy="985.89" r="1.85"/><circle cx="524.49" cy="985.89" r="1.85"/><circle cx="534.01" cy="985.16" r="1.85"/><circle cx="543.54" cy="981.52" r="1.85"/><circle cx="553.07" cy="980.24" r="1.85"/><circle cx="562.59" cy="977.69" r="1.85"/><circle cx="572.12" cy="967.3" r="1.85"/><circle cx="581.65" cy="961.65" r="1.85"/><circle cx="591.17" cy="958.18" r="1.85"/><circle cx="600.7" cy="952.53" r="1.85"/><circle cx="610.23" cy="956.91" r="1.85"/><circle cx="619.75" cy="945.6" r="1.85"/><circle cx="629.28" cy="945.79" r="1.85"/><circle cx="638.81" cy="945.79" r="1.85"/><circle cx="648.33" cy="942.32" r="1.85"/><circle cx="657.86" cy="941.59" r="1.85"/><circle cx="667.39" cy="940.5" r="1.85"/></g>
</g>
<rect class="lgb" x="382.8" y="931.5" width="79.6" height="42.55" rx="0.8"/>
<g opacity="0.88"><path d="M384.7 936.88H400.5" stroke="#F19D88" stroke-width="1.1"/><circle class="mk1" cx="392.6" cy="936.88" r="1.85" fill="#CF867C"/></g>
<text class="lgt" x="405.6" y="939.38">Club 1</text>
<g opacity="0.88"><path d="M384.7 946.93H400.5" stroke="#4FB6CE" stroke-width="1.1"/><circle class="mk1" cx="392.6" cy="946.93" r="1.85" fill="#3A97AB"/></g>
<text class="lgt" x="405.6" y="949.43">Club 2</text>
<g opacity="0.88"><path d="M384.7 956.98H400.5" stroke="#E64B35" stroke-width="1.1"/><circle class="mk1" cx="392.6" cy="956.98" r="1.85" fill="#BE372F"/></g>
<text class="lgt" x="405.6" y="959.48">Club 3</text>
<g opacity="0.88"><path d="M384.7 967.02H400.5" stroke="#D9B92E" stroke-width="1.1"/><circle class="mk1" cx="392.6" cy="967.02" r="1.85" fill="#AD9420"/></g>
<text class="lgt" x="405.6" y="969.52">Diverging Group 4</text>
<path class="sp" d="M377.5 1199.56V928H681.4"/>
<path class="sp2" d="M681.4 927.5V1199.56H377"/>
<text class="yt" x="372" y="933.26">2.0%</text>
<text class="yt" x="372" y="969.35">1.8%</text>
<text class="yt" x="372" y="1005.63">1.5%</text>
<text class="yt" x="372" y="1041.9">1.2%</text>
<text class="yt" x="372" y="1078">1.0%</text>
<text class="yt" x="372" y="1114.27">0.8%</text>
<text class="yt" x="372" y="1150.55">0.5%</text>
<text class="yt" x="372" y="1186.82">0.2%</text>
<text class="xt" x="391.11" y="1209.76">1990</text>
<text class="xt" x="486.38" y="1209.76">2000</text>
<text class="xt" x="581.65" y="1209.76">2010</text>
<text class="xt" x="667.39" y="1209.76">2019</text>
<path class="tk" d="M377.5 930.66h-2.4M377.5 966.75h-2.4M377.5 1003.03h-2.4M377.5 1039.3h-2.4M377.5 1075.4h-2.4M377.5 1111.67h-2.4M377.5 1147.95h-2.4M377.5 1184.22h-2.4M391.11 1199.56v2.4M486.38 1199.56v2.4M581.65 1199.56v2.4M667.39 1199.56v2.4"/>
</g>
<g>
<text class="ttl" x="712.55" y="923.7">l. Alcoholic drinks</text>
<g class="ser">
<path d="M726.26 940.32 L735.79 945.24 L745.32 950.71 L754.84 956.18 L764.37 962.74 L773.9 979.15 L783.42 989.72 L792.95 997.01 L802.48 1004.3 L812 1011.05 L821.53 1012.87 L831.06 1023.81 L840.58 1024.54 L850.11 1022.71 L859.64 1024.17 L869.16 1026.36 L878.69 1032.56 L888.22 1040.03 L897.74 1041.85 L907.27 1030.73 L916.8 1030.19 L926.32 1028.55 L935.85 1032.38 L945.38 1033.47 L954.9 1028.55 L964.43 1032.01 L973.96 1030.01 L983.48 1033.65 L993.01 1032.19 L1002.54 1035.47" stroke="#F19D88" fill="none"/>
<g class="mk" fill="#CF867C"><circle cx="726.26" cy="940.32" r="1.85"/><circle cx="735.79" cy="945.24" r="1.85"/><circle cx="745.32" cy="950.71" r="1.85"/><circle cx="754.84" cy="956.18" r="1.85"/><circle cx="764.37" cy="962.74" r="1.85"/><circle cx="773.9" cy="979.15" r="1.85"/><circle cx="783.42" cy="989.72" r="1.85"/><circle cx="792.95" cy="997.01" r="1.85"/><circle cx="802.48" cy="1004.3" r="1.85"/><circle cx="812" cy="1011.05" r="1.85"/><circle cx="821.53" cy="1012.87" r="1.85"/><circle cx="831.06" cy="1023.81" r="1.85"/><circle cx="840.58" cy="1024.54" r="1.85"/><circle cx="850.11" cy="1022.71" r="1.85"/><circle cx="859.64" cy="1024.17" r="1.85"/><circle cx="869.16" cy="1026.36" r="1.85"/><circle cx="878.69" cy="1032.56" r="1.85"/><circle cx="888.22" cy="1040.03" r="1.85"/><circle cx="897.74" cy="1041.85" r="1.85"/><circle cx="907.27" cy="1030.73" r="1.85"/><circle cx="916.8" cy="1030.19" r="1.85"/><circle cx="926.32" cy="1028.55" r="1.85"/><circle cx="935.85" cy="1032.38" r="1.85"/><circle cx="945.38" cy="1033.47" r="1.85"/><circle cx="954.9" cy="1028.55" r="1.85"/><circle cx="964.43" cy="1032.01" r="1.85"/><circle cx="973.96" cy="1030.01" r="1.85"/><circle cx="983.48" cy="1033.65" r="1.85"/><circle cx="993.01" cy="1032.19" r="1.85"/><circle cx="1002.54" cy="1035.47" r="1.85"/></g>
<path d="M726.26 1091.98 L735.79 1093.99 L745.32 1096.18 L754.84 1096.91 L764.37 1096.72 L773.9 1098 L783.42 1100.01 L792.95 1099.46 L802.48 1099.28 L812 1099.82 L821.53 1101.46 L831.06 1103.65 L840.58 1105.66 L850.11 1107.11 L859.64 1110.03 L869.16 1113.13 L878.69 1112.95 L888.22 1113.31 L897.74 1113.86 L907.27 1113.31 L916.8 1112.95 L926.32 1113.31 L935.85 1113.86 L945.38 1113.49 L954.9 1114.22 L964.43 1114.95 L973.96 1115.14 L983.48 1115.86 L993.01 1116.59 L1002.54 1116.96" stroke="#4FB6CE" fill="none"/>
<g class="mk" fill="#3A97AB"><circle cx="726.26" cy="1091.98" r="1.85"/><circle cx="735.79" cy="1093.99" r="1.85"/><circle cx="745.32" cy="1096.18" r="1.85"/><circle cx="754.84" cy="1096.91" r="1.85"/><circle cx="764.37" cy="1096.72" r="1.85"/><circle cx="773.9" cy="1098" r="1.85"/><circle cx="783.42" cy="1100.01" r="1.85"/><circle cx="792.95" cy="1099.46" r="1.85"/><circle cx="802.48" cy="1099.28" r="1.85"/><circle cx="812" cy="1099.82" r="1.85"/><circle cx="821.53" cy="1101.46" r="1.85"/><circle cx="831.06" cy="1103.65" r="1.85"/><circle cx="840.58" cy="1105.66" r="1.85"/><circle cx="850.11" cy="1107.11" r="1.85"/><circle cx="859.64" cy="1110.03" r="1.85"/><circle cx="869.16" cy="1113.13" r="1.85"/><circle cx="878.69" cy="1112.95" r="1.85"/><circle cx="888.22" cy="1113.31" r="1.85"/><circle cx="897.74" cy="1113.86" r="1.85"/><circle cx="907.27" cy="1113.31" r="1.85"/><circle cx="916.8" cy="1112.95" r="1.85"/><circle cx="926.32" cy="1113.31" r="1.85"/><circle cx="935.85" cy="1113.86" r="1.85"/><circle cx="945.38" cy="1113.49" r="1.85"/><circle cx="954.9" cy="1114.22" r="1.85"/><circle cx="964.43" cy="1114.95" r="1.85"/><circle cx="973.96" cy="1115.14" r="1.85"/><circle cx="983.48" cy="1115.86" r="1.85"/><circle cx="993.01" cy="1116.59" r="1.85"/><circle cx="1002.54" cy="1116.96" r="1.85"/></g>
<path d="M726.26 1183.68 L735.79 1183.86 L745.32 1183.86 L754.84 1184.04 L764.37 1184.04 L773.9 1184.22 L783.42 1184.22 L792.95 1184.22 L802.48 1184.41 L812 1184.41 L821.53 1184.41 L831.06 1184.59 L840.58 1184.41 L850.11 1184.59 L859.64 1184.59 L869.16 1184.59 L878.69 1184.77 L888.22 1184.95 L897.74 1185.14 L907.27 1185.5 L916.8 1185.68 L926.32 1185.86 L935.85 1185.86 L945.38 1185.86 L954.9 1186.78 L964.43 1187.14 L973.96 1187.14 L983.48 1187.14 L993.01 1187.14 L1002.54 1187.14" stroke="#E64B35" fill="none"/>
<g class="mk" fill="#BE372F"><circle cx="726.26" cy="1183.68" r="1.85"/><circle cx="735.79" cy="1183.86" r="1.85"/><circle cx="745.32" cy="1183.86" r="1.85"/><circle cx="754.84" cy="1184.04" r="1.85"/><circle cx="764.37" cy="1184.04" r="1.85"/><circle cx="773.9" cy="1184.22" r="1.85"/><circle cx="783.42" cy="1184.22" r="1.85"/><circle cx="792.95" cy="1184.22" r="1.85"/><circle cx="802.48" cy="1184.41" r="1.85"/><circle cx="812" cy="1184.41" r="1.85"/><circle cx="821.53" cy="1184.41" r="1.85"/><circle cx="831.06" cy="1184.59" r="1.85"/><circle cx="840.58" cy="1184.41" r="1.85"/><circle cx="850.11" cy="1184.59" r="1.85"/><circle cx="859.64" cy="1184.59" r="1.85"/><circle cx="869.16" cy="1184.59" r="1.85"/><circle cx="878.69" cy="1184.77" r="1.85"/><circle cx="888.22" cy="1184.95" r="1.85"/><circle cx="897.74" cy="1185.14" r="1.85"/><circle cx="907.27" cy="1185.5" r="1.85"/><circle cx="916.8" cy="1185.68" r="1.85"/><circle cx="926.32" cy="1185.86" r="1.85"/><circle cx="935.85" cy="1185.86" r="1.85"/><circle cx="945.38" cy="1185.86" r="1.85"/><circle cx="954.9" cy="1186.78" r="1.85"/><circle cx="964.43" cy="1187.14" r="1.85"/><circle cx="973.96" cy="1187.14" r="1.85"/><circle cx="983.48" cy="1187.14" r="1.85"/><circle cx="993.01" cy="1187.14" r="1.85"/><circle cx="1002.54" cy="1187.14" r="1.85"/></g>
<path d="M726.26 1147.22 L735.79 1147.77 L745.32 1147.77 L754.84 1148.13 L764.37 1147.77 L773.9 1148.49 L783.42 1147.4 L792.95 1147.04 L802.48 1148.31 L812 1149.59 L821.53 1149.59 L831.06 1150.5 L840.58 1152.14 L850.11 1153.6 L859.64 1154.88 L869.16 1155.79 L878.69 1157.24 L888.22 1157.61 L897.74 1158.7 L907.27 1158.89 L916.8 1159.61 L926.32 1160.89 L935.85 1161.8 L945.38 1162.9 L954.9 1162.71 L964.43 1163.44 L973.96 1163.62 L983.48 1164.35 L993.01 1164.72 L1002.54 1164.9" stroke="#D9B92E" fill="none"/>
<g class="mk" fill="#AD9420"><circle cx="726.26" cy="1147.22" r="1.85"/><circle cx="735.79" cy="1147.77" r="1.85"/><circle cx="745.32" cy="1147.77" r="1.85"/><circle cx="754.84" cy="1148.13" r="1.85"/><circle cx="764.37" cy="1147.77" r="1.85"/><circle cx="773.9" cy="1148.49" r="1.85"/><circle cx="783.42" cy="1147.4" r="1.85"/><circle cx="792.95" cy="1147.04" r="1.85"/><circle cx="802.48" cy="1148.31" r="1.85"/><circle cx="812" cy="1149.59" r="1.85"/><circle cx="821.53" cy="1149.59" r="1.85"/><circle cx="831.06" cy="1150.5" r="1.85"/><circle cx="840.58" cy="1152.14" r="1.85"/><circle cx="850.11" cy="1153.6" r="1.85"/><circle cx="859.64" cy="1154.88" r="1.85"/><circle cx="869.16" cy="1155.79" r="1.85"/><circle cx="878.69" cy="1157.24" r="1.85"/><circle cx="888.22" cy="1157.61" r="1.85"/><circle cx="897.74" cy="1158.7" r="1.85"/><circle cx="907.27" cy="1158.89" r="1.85"/><circle cx="916.8" cy="1159.61" r="1.85"/><circle cx="926.32" cy="1160.89" r="1.85"/><circle cx="935.85" cy="1161.8" r="1.85"/><circle cx="945.38" cy="1162.9" r="1.85"/><circle cx="954.9" cy="1162.71" r="1.85"/><circle cx="964.43" cy="1163.44" r="1.85"/><circle cx="973.96" cy="1163.62" r="1.85"/><circle cx="983.48" cy="1164.35" r="1.85"/><circle cx="993.01" cy="1164.72" r="1.85"/><circle cx="1002.54" cy="1164.9" r="1.85"/></g>
</g>
<rect class="lgb" x="717.95" y="931.5" width="79.6" height="42.55" rx="0.8"/>
<g opacity="0.88"><path d="M719.85 936.88H735.65" stroke="#F19D88" stroke-width="1.1"/><circle class="mk1" cx="727.75" cy="936.88" r="1.85" fill="#CF867C"/></g>
<text class="lgt" x="740.75" y="939.38">Club 1</text>
<g opacity="0.88"><path d="M719.85 946.93H735.65" stroke="#4FB6CE" stroke-width="1.1"/><circle class="mk1" cx="727.75" cy="946.93" r="1.85" fill="#3A97AB"/></g>
<text class="lgt" x="740.75" y="949.43">Club 2</text>
<g opacity="0.88"><path d="M719.85 956.98H735.65" stroke="#E64B35" stroke-width="1.1"/><circle class="mk1" cx="727.75" cy="956.98" r="1.85" fill="#BE372F"/></g>
<text class="lgt" x="740.75" y="959.48">Club 3</text>
<g opacity="0.88"><path d="M719.85 967.02H735.65" stroke="#D9B92E" stroke-width="1.1"/><circle class="mk1" cx="727.75" cy="967.02" r="1.85" fill="#AD9420"/></g>
<text class="lgt" x="740.75" y="969.52">Diverging Group 4</text>
<path class="sp" d="M712.65 1199.56V928H1016.55"/>
<path class="sp2" d="M1016.55 927.5V1199.56H712.15"/>
<text class="yt" x="707.15" y="957.87">6.0%</text>
<text class="yt" x="707.15" y="996.88">5.0%</text>
<text class="yt" x="707.15" y="1035.89">4.0%</text>
<text class="yt" x="707.15" y="1074.9">3.0%</text>
<text class="yt" x="707.15" y="1113.91">2.0%</text>
<text class="yt" x="707.15" y="1152.92">1.0%</text>
<text class="yt" x="707.15" y="1191.93">0</text>
<text class="xt" x="726.26" y="1209.76">1990</text>
<text class="xt" x="821.53" y="1209.76">2000</text>
<text class="xt" x="916.8" y="1209.76">2010</text>
<text class="xt" x="1002.54" y="1209.76">2019</text>
<path class="tk" d="M712.65 955.27h-2.4M712.65 994.28h-2.4M712.65 1033.29h-2.4M712.65 1072.3h-2.4M712.65 1111.31h-2.4M712.65 1150.32h-2.4M712.65 1189.33h-2.4M726.26 1199.56v2.4M821.53 1199.56v2.4M916.8 1199.56v2.4M1002.54 1199.56v2.4"/>
</g>
<g>
<text class="ttl" x="42.35" y="1226.7">m. Tobacco</text>
<g class="ser">
<path d="M56.06 1315.14 L65.59 1314.59 L75.12 1316.6 L84.64 1319.52 L94.17 1321.7 L103.7 1319.15 L113.22 1319.88 L122.75 1321.34 L132.28 1321.34 L141.8 1325.17 L151.33 1327.35 L160.86 1329.18 L170.38 1327.35 L179.91 1328.27 L189.44 1333.55 L198.96 1340.48 L208.49 1341.03 L218.02 1348.14 L227.54 1351.42 L237.07 1350.14 L246.6 1349.23 L256.12 1347.22 L265.65 1357.25 L275.18 1357.07 L284.7 1354.52 L294.23 1354.15 L303.76 1355.61 L313.28 1355.61 L322.81 1355.43 L332.34 1357.07" stroke="#F19D88" fill="none"/>
<g class="mk" fill="#CF867C"><circle cx="56.06" cy="1315.14" r="1.85"/><circle cx="65.59" cy="1314.59" r="1.85"/><circle cx="75.12" cy="1316.6" r="1.85"/><circle cx="84.64" cy="1319.52" r="1.85"/><circle cx="94.17" cy="1321.7" r="1.85"/><circle cx="103.7" cy="1319.15" r="1.85"/><circle cx="113.22" cy="1319.88" r="1.85"/><circle cx="122.75" cy="1321.34" r="1.85"/><circle cx="132.28" cy="1321.34" r="1.85"/><circle cx="141.8" cy="1325.17" r="1.85"/><circle cx="151.33" cy="1327.35" r="1.85"/><circle cx="160.86" cy="1329.18" r="1.85"/><circle cx="170.38" cy="1327.35" r="1.85"/><circle cx="179.91" cy="1328.27" r="1.85"/><circle cx="189.44" cy="1333.55" r="1.85"/><circle cx="198.96" cy="1340.48" r="1.85"/><circle cx="208.49" cy="1341.03" r="1.85"/><circle cx="218.02" cy="1348.14" r="1.85"/><circle cx="227.54" cy="1351.42" r="1.85"/><circle cx="237.07" cy="1350.14" r="1.85"/><circle cx="246.6" cy="1349.23" r="1.85"/><circle cx="256.12" cy="1347.22" r="1.85"/><circle cx="265.65" cy="1357.25" r="1.85"/><circle cx="275.18" cy="1357.07" r="1.85"/><circle cx="284.7" cy="1354.52" r="1.85"/><circle cx="294.23" cy="1354.15" r="1.85"/><circle cx="303.76" cy="1355.61" r="1.85"/><circle cx="313.28" cy="1355.61" r="1.85"/><circle cx="322.81" cy="1355.43" r="1.85"/><circle cx="332.34" cy="1357.07" r="1.85"/></g>
<path d="M56.06 1336.47 L65.59 1340.3 L75.12 1339.39 L84.64 1342.48 L94.17 1337.74 L103.7 1339.39 L113.22 1339.02 L122.75 1341.21 L132.28 1344.31 L141.8 1346.13 L151.33 1350.32 L160.86 1353.42 L170.38 1352.88 L179.91 1360.71 L189.44 1364.36 L198.96 1368.01 L208.49 1372.02 L218.02 1378.94 L227.54 1382.04 L237.07 1383.14 L246.6 1388.79 L256.12 1394.62 L265.65 1398.45 L275.18 1400.64 L284.7 1400.45 L294.23 1400.45 L303.76 1399.91 L313.28 1402.46 L322.81 1401.91 L332.34 1403.92" stroke="#4FB6CE" fill="none"/>
<g class="mk" fill="#3A97AB"><circle cx="56.06" cy="1336.47" r="1.85"/><circle cx="65.59" cy="1340.3" r="1.85"/><circle cx="75.12" cy="1339.39" r="1.85"/><circle cx="84.64" cy="1342.48" r="1.85"/><circle cx="94.17" cy="1337.74" r="1.85"/><circle cx="103.7" cy="1339.39" r="1.85"/><circle cx="113.22" cy="1339.02" r="1.85"/><circle cx="122.75" cy="1341.21" r="1.85"/><circle cx="132.28" cy="1344.31" r="1.85"/><circle cx="141.8" cy="1346.13" r="1.85"/><circle cx="151.33" cy="1350.32" r="1.85"/><circle cx="160.86" cy="1353.42" r="1.85"/><circle cx="170.38" cy="1352.88" r="1.85"/><circle cx="179.91" cy="1360.71" r="1.85"/><circle cx="189.44" cy="1364.36" r="1.85"/><circle cx="198.96" cy="1368.01" r="1.85"/><circle cx="208.49" cy="1372.02" r="1.85"/><circle cx="218.02" cy="1378.94" r="1.85"/><circle cx="227.54" cy="1382.04" r="1.85"/><circle cx="237.07" cy="1383.14" r="1.85"/><circle cx="246.6" cy="1388.79" r="1.85"/><circle cx="256.12" cy="1394.62" r="1.85"/><circle cx="265.65" cy="1398.45" r="1.85"/><circle cx="275.18" cy="1400.64" r="1.85"/><circle cx="284.7" cy="1400.45" r="1.85"/><circle cx="294.23" cy="1400.45" r="1.85"/><circle cx="303.76" cy="1399.91" r="1.85"/><circle cx="313.28" cy="1402.46" r="1.85"/><circle cx="322.81" cy="1401.91" r="1.85"/><circle cx="332.34" cy="1403.92" r="1.85"/></g>
<path d="M56.06 1292.17 L65.59 1293.08 L75.12 1284.33 L84.64 1286.52 L94.17 1275.95 L103.7 1280.69 L113.22 1282.88 L122.75 1284.7 L132.28 1283.6 L141.8 1281.6 L151.33 1277.41 L160.86 1274.67 L170.38 1278.86 L179.91 1271.03 L189.44 1278.5 L198.96 1278.14 L208.49 1283.79 L218.02 1282.33 L227.54 1284.15 L237.07 1274.12 L246.6 1265.19 L256.12 1262.28 L265.65 1250.79 L275.18 1252.25 L284.7 1250.61 L294.23 1249.52 L303.76 1243.32 L313.28 1246.05 L322.81 1250.06 L332.34 1248.24" stroke="#E64B35" fill="none"/>
<g class="mk" fill="#BE372F"><circle cx="56.06" cy="1292.17" r="1.85"/><circle cx="65.59" cy="1293.08" r="1.85"/><circle cx="75.12" cy="1284.33" r="1.85"/><circle cx="84.64" cy="1286.52" r="1.85"/><circle cx="94.17" cy="1275.95" r="1.85"/><circle cx="103.7" cy="1280.69" r="1.85"/><circle cx="113.22" cy="1282.88" r="1.85"/><circle cx="122.75" cy="1284.7" r="1.85"/><circle cx="132.28" cy="1283.6" r="1.85"/><circle cx="141.8" cy="1281.6" r="1.85"/><circle cx="151.33" cy="1277.41" r="1.85"/><circle cx="160.86" cy="1274.67" r="1.85"/><circle cx="170.38" cy="1278.86" r="1.85"/><circle cx="179.91" cy="1271.03" r="1.85"/><circle cx="189.44" cy="1278.5" r="1.85"/><circle cx="198.96" cy="1278.14" r="1.85"/><circle cx="208.49" cy="1283.79" r="1.85"/><circle cx="218.02" cy="1282.33" r="1.85"/><circle cx="227.54" cy="1284.15" r="1.85"/><circle cx="237.07" cy="1274.12" r="1.85"/><circle cx="246.6" cy="1265.19" r="1.85"/><circle cx="256.12" cy="1262.28" r="1.85"/><circle cx="265.65" cy="1250.79" r="1.85"/><circle cx="275.18" cy="1252.25" r="1.85"/><circle cx="284.7" cy="1250.61" r="1.85"/><circle cx="294.23" cy="1249.52" r="1.85"/><circle cx="303.76" cy="1243.32" r="1.85"/><circle cx="313.28" cy="1246.05" r="1.85"/><circle cx="322.81" cy="1250.06" r="1.85"/><circle cx="332.34" cy="1248.24" r="1.85"/></g>
<path d="M56.06 1419.05 L65.59 1421.78 L75.12 1422.33 L84.64 1426.7 L94.17 1427.8 L103.7 1428.53 L113.22 1429.26 L122.75 1430.53 L132.28 1432.17 L141.8 1432.9 L151.33 1435.64 L160.86 1440.19 L170.38 1444.93 L179.91 1448.58 L189.44 1449.49 L198.96 1451.68 L208.49 1453.5 L218.02 1455.87 L227.54 1457.88 L237.07 1458.42 L246.6 1460.06 L256.12 1461.34 L265.65 1461.89 L275.18 1463.34 L284.7 1463.71 L294.23 1465.17 L303.76 1466.44 L313.28 1467.35 L322.81 1468.63 L332.34 1469.54" stroke="#D9B92E" fill="none"/>
<g class="mk" fill="#AD9420"><circle cx="56.06" cy="1419.05" r="1.85"/><circle cx="65.59" cy="1421.78" r="1.85"/><circle cx="75.12" cy="1422.33" r="1.85"/><circle cx="84.64" cy="1426.7" r="1.85"/><circle cx="94.17" cy="1427.8" r="1.85"/><circle cx="103.7" cy="1428.53" r="1.85"/><circle cx="113.22" cy="1429.26" r="1.85"/><circle cx="122.75" cy="1430.53" r="1.85"/><circle cx="132.28" cy="1432.17" r="1.85"/><circle cx="141.8" cy="1432.9" r="1.85"/><circle cx="151.33" cy="1435.64" r="1.85"/><circle cx="160.86" cy="1440.19" r="1.85"/><circle cx="170.38" cy="1444.93" r="1.85"/><circle cx="179.91" cy="1448.58" r="1.85"/><circle cx="189.44" cy="1449.49" r="1.85"/><circle cx="198.96" cy="1451.68" r="1.85"/><circle cx="208.49" cy="1453.5" r="1.85"/><circle cx="218.02" cy="1455.87" r="1.85"/><circle cx="227.54" cy="1457.88" r="1.85"/><circle cx="237.07" cy="1458.42" r="1.85"/><circle cx="246.6" cy="1460.06" r="1.85"/><circle cx="256.12" cy="1461.34" r="1.85"/><circle cx="265.65" cy="1461.89" r="1.85"/><circle cx="275.18" cy="1463.34" r="1.85"/><circle cx="284.7" cy="1463.71" r="1.85"/><circle cx="294.23" cy="1465.17" r="1.85"/><circle cx="303.76" cy="1466.44" r="1.85"/><circle cx="313.28" cy="1467.35" r="1.85"/><circle cx="322.81" cy="1468.63" r="1.85"/><circle cx="332.34" cy="1469.54" r="1.85"/></g>
<path d="M56.06 1431.81 L65.59 1432.9 L75.12 1434.36 L84.64 1437.09 L94.17 1438.92 L103.7 1441.47 L113.22 1442.93 L122.75 1444.39 L132.28 1448.76 L141.8 1449.67 L151.33 1449.67 L160.86 1456.78 L170.38 1463.89 L179.91 1468.45 L189.44 1471 L198.96 1473.19 L208.49 1474.28 L218.02 1477.2 L227.54 1477.93 L237.07 1482.67 L246.6 1483.58 L256.12 1484.49 L265.65 1485.95 L275.18 1487.04 L284.7 1487.95 L294.23 1489.05 L303.76 1489.59 L313.28 1489.78 L322.81 1489.96 L332.34 1490.32" stroke="#634C3F" fill="none"/>
<g class="mk" fill="#44352E"><circle cx="56.06" cy="1431.81" r="1.85"/><circle cx="65.59" cy="1432.9" r="1.85"/><circle cx="75.12" cy="1434.36" r="1.85"/><circle cx="84.64" cy="1437.09" r="1.85"/><circle cx="94.17" cy="1438.92" r="1.85"/><circle cx="103.7" cy="1441.47" r="1.85"/><circle cx="113.22" cy="1442.93" r="1.85"/><circle cx="122.75" cy="1444.39" r="1.85"/><circle cx="132.28" cy="1448.76" r="1.85"/><circle cx="141.8" cy="1449.67" r="1.85"/><circle cx="151.33" cy="1449.67" r="1.85"/><circle cx="160.86" cy="1456.78" r="1.85"/><circle cx="170.38" cy="1463.89" r="1.85"/><circle cx="179.91" cy="1468.45" r="1.85"/><circle cx="189.44" cy="1471" r="1.85"/><circle cx="198.96" cy="1473.19" r="1.85"/><circle cx="208.49" cy="1474.28" r="1.85"/><circle cx="218.02" cy="1477.2" r="1.85"/><circle cx="227.54" cy="1477.93" r="1.85"/><circle cx="237.07" cy="1482.67" r="1.85"/><circle cx="246.6" cy="1483.58" r="1.85"/><circle cx="256.12" cy="1484.49" r="1.85"/><circle cx="265.65" cy="1485.95" r="1.85"/><circle cx="275.18" cy="1487.04" r="1.85"/><circle cx="284.7" cy="1487.95" r="1.85"/><circle cx="294.23" cy="1489.05" r="1.85"/><circle cx="303.76" cy="1489.59" r="1.85"/><circle cx="313.28" cy="1489.78" r="1.85"/><circle cx="322.81" cy="1489.96" r="1.85"/><circle cx="332.34" cy="1490.32" r="1.85"/></g>
</g>
<rect class="lgb" x="47.75" y="1234.5" width="79.6" height="52.6" rx="0.8"/>
<g opacity="0.88"><path d="M49.65 1239.88H65.45" stroke="#F19D88" stroke-width="1.1"/><circle class="mk1" cx="57.55" cy="1239.88" r="1.85" fill="#CF867C"/></g>
<text class="lgt" x="70.55" y="1242.38">Club 1</text>
<g opacity="0.88"><path d="M49.65 1249.92H65.45" stroke="#4FB6CE" stroke-width="1.1"/><circle class="mk1" cx="57.55" cy="1249.92" r="1.85" fill="#3A97AB"/></g>
<text class="lgt" x="70.55" y="1252.42">Club 2</text>
<g opacity="0.88"><path d="M49.65 1259.97H65.45" stroke="#E64B35" stroke-width="1.1"/><circle class="mk1" cx="57.55" cy="1259.97" r="1.85" fill="#BE372F"/></g>
<text class="lgt" x="70.55" y="1262.47">Diverging Group 3</text>
<g opacity="0.88"><path d="M49.65 1270.02H65.45" stroke="#D9B92E" stroke-width="1.1"/><circle class="mk1" cx="57.55" cy="1270.02" r="1.85" fill="#AD9420"/></g>
<text class="lgt" x="70.55" y="1272.52">Diverging Group 4</text>
<g opacity="0.88"><path d="M49.65 1280.07H65.45" stroke="#634C3F" stroke-width="1.1"/><circle class="mk1" cx="57.55" cy="1280.07" r="1.85" fill="#44352E"/></g>
<text class="lgt" x="70.55" y="1282.57">Diverging Group 5</text>
<path class="sp" d="M42.45 1502.56V1231H346.35"/>
<path class="sp2" d="M346.35 1230.5V1502.56H41.95"/>
<text class="yt" x="36.95" y="1254.85">3.0%</text>
<text class="yt" x="36.95" y="1296.05">2.5%</text>
<text class="yt" x="36.95" y="1337.25">2.0%</text>
<text class="yt" x="36.95" y="1378.44">1.5%</text>
<text class="yt" x="36.95" y="1419.64">1.0%</text>
<text class="yt" x="36.95" y="1460.84">0.5%</text>
<text class="yt" x="36.95" y="1502.04">0</text>
<text class="xt" x="56.06" y="1512.76">1990</text>
<text class="xt" x="151.33" y="1512.76">2000</text>
<text class="xt" x="246.6" y="1512.76">2010</text>
<text class="xt" x="332.34" y="1512.76">2019</text>
<path class="tk" d="M42.45 1252.25h-2.4M42.45 1293.45h-2.4M42.45 1334.65h-2.4M42.45 1375.84h-2.4M42.45 1417.04h-2.4M42.45 1458.24h-2.4M42.45 1499.44h-2.4M56.06 1502.56v2.4M151.33 1502.56v2.4M246.6 1502.56v2.4M332.34 1502.56v2.4"/>
<text class="yl" transform="translate(17.7 1366.78) rotate(-90)">Average budget share</text>
<text class="xl" x="194.4" y="1524.3">Year</text>
</g>
<g>
<text class="ttl" x="377.4" y="1226.7">n. Ultra-processed foods</text>
<g class="ser">
<path d="M391.11 1375.84 L418.74 1381.31 L446.37 1383.14 L474 1386.96 L501.62 1388.79 L529.25 1390.79 L556.88 1389.52 L584.5 1390.06 L612.13 1392.8 L639.76 1393.16 L667.39 1393.71" stroke="#F19D88" fill="none"/>
<g class="mk" fill="#CF867C"><circle cx="391.11" cy="1375.84" r="1.85"/><circle cx="418.74" cy="1381.31" r="1.85"/><circle cx="446.37" cy="1383.14" r="1.85"/><circle cx="474" cy="1386.96" r="1.85"/><circle cx="501.62" cy="1388.79" r="1.85"/><circle cx="529.25" cy="1390.79" r="1.85"/><circle cx="556.88" cy="1389.52" r="1.85"/><circle cx="584.5" cy="1390.06" r="1.85"/><circle cx="612.13" cy="1392.8" r="1.85"/><circle cx="639.76" cy="1393.16" r="1.85"/><circle cx="667.39" cy="1393.71" r="1.85"/></g>
<path d="M391.11 1475.01 L418.74 1478.11 L446.37 1479.93 L474 1476.47 L501.62 1481.94 L529.25 1482.67 L556.88 1483.76 L584.5 1486.49 L612.13 1486.68 L639.76 1488.5 L667.39 1490.14" stroke="#4FB6CE" fill="none"/>
<g class="mk" fill="#3A97AB"><circle cx="391.11" cy="1475.01" r="1.85"/><circle cx="418.74" cy="1478.11" r="1.85"/><circle cx="446.37" cy="1479.93" r="1.85"/><circle cx="474" cy="1476.47" r="1.85"/><circle cx="501.62" cy="1481.94" r="1.85"/><circle cx="529.25" cy="1482.67" r="1.85"/><circle cx="556.88" cy="1483.76" r="1.85"/><circle cx="584.5" cy="1486.49" r="1.85"/><circle cx="612.13" cy="1486.68" r="1.85"/><circle cx="639.76" cy="1488.5" r="1.85"/><circle cx="667.39" cy="1490.14" r="1.85"/></g>
<path d="M391.11 1243.32 L418.74 1257.9 L446.37 1267.02 L474 1279.96 L501.62 1283.79 L529.25 1280.32 L556.88 1281.23 L584.5 1280.14 L612.13 1289.8 L639.76 1295.09 L667.39 1292.35" stroke="#E64B35" fill="none"/>
<g class="mk" fill="#BE372F"><circle cx="391.11" cy="1243.32" r="1.85"/><circle cx="418.74" cy="1257.9" r="1.85"/><circle cx="446.37" cy="1267.02" r="1.85"/><circle cx="474" cy="1279.96" r="1.85"/><circle cx="501.62" cy="1283.79" r="1.85"/><circle cx="529.25" cy="1280.32" r="1.85"/><circle cx="556.88" cy="1281.23" r="1.85"/><circle cx="584.5" cy="1280.14" r="1.85"/><circle cx="612.13" cy="1289.8" r="1.85"/><circle cx="639.76" cy="1295.09" r="1.85"/><circle cx="667.39" cy="1292.35" r="1.85"/></g>
<path d="M391.11 1427.61 L418.74 1428.89 L446.37 1429.62 L474 1429.8 L501.62 1430.35 L529.25 1431.44 L556.88 1432.54 L584.5 1432.72 L612.13 1434.54 L639.76 1436 L667.39 1435.82" stroke="#D9B92E" fill="none"/>
<g class="mk" fill="#AD9420"><circle cx="391.11" cy="1427.61" r="1.85"/><circle cx="418.74" cy="1428.89" r="1.85"/><circle cx="446.37" cy="1429.62" r="1.85"/><circle cx="474" cy="1429.8" r="1.85"/><circle cx="501.62" cy="1430.35" r="1.85"/><circle cx="529.25" cy="1431.44" r="1.85"/><circle cx="556.88" cy="1432.54" r="1.85"/><circle cx="584.5" cy="1432.72" r="1.85"/><circle cx="612.13" cy="1434.54" r="1.85"/><circle cx="639.76" cy="1436" r="1.85"/><circle cx="667.39" cy="1435.82" r="1.85"/></g>
<path d="M391.11 1453.32 L418.74 1455.32 L446.37 1457.88 L474 1459.33 L501.62 1461.52 L529.25 1464.07 L556.88 1466.26 L584.5 1466.26 L612.13 1467.72 L639.76 1469.36 L667.39 1470.27" stroke="#634C3F" fill="none"/>
<g class="mk" fill="#44352E"><circle cx="391.11" cy="1453.32" r="1.85"/><circle cx="418.74" cy="1455.32" r="1.85"/><circle cx="446.37" cy="1457.88" r="1.85"/><circle cx="474" cy="1459.33" r="1.85"/><circle cx="501.62" cy="1461.52" r="1.85"/><circle cx="529.25" cy="1464.07" r="1.85"/><circle cx="556.88" cy="1466.26" r="1.85"/><circle cx="584.5" cy="1466.26" r="1.85"/><circle cx="612.13" cy="1467.72" r="1.85"/><circle cx="639.76" cy="1469.36" r="1.85"/><circle cx="667.39" cy="1470.27" r="1.85"/></g>
</g>
<rect class="lgb" x="382.8" y="1234.5" width="79.6" height="52.6" rx="0.8"/>
<g opacity="0.88"><path d="M384.7 1239.88H400.5" stroke="#F19D88" stroke-width="1.1"/><circle class="mk1" cx="392.6" cy="1239.88" r="1.85" fill="#CF867C"/></g>
<text class="lgt" x="405.6" y="1242.38">Club 1</text>
<g opacity="0.88"><path d="M384.7 1249.92H400.5" stroke="#4FB6CE" stroke-width="1.1"/><circle class="mk1" cx="392.6" cy="1249.92" r="1.85" fill="#3A97AB"/></g>
<text class="lgt" x="405.6" y="1252.42">Club 2</text>
<g opacity="0.88"><path d="M384.7 1259.97H400.5" stroke="#E64B35" stroke-width="1.1"/><circle class="mk1" cx="392.6" cy="1259.97" r="1.85" fill="#BE372F"/></g>
<text class="lgt" x="405.6" y="1262.47">Diverging Group 3</text>
<g opacity="0.88"><path d="M384.7 1270.02H400.5" stroke="#D9B92E" stroke-width="1.1"/><circle class="mk1" cx="392.6" cy="1270.02" r="1.85" fill="#AD9420"/></g>
<text class="lgt" x="405.6" y="1272.52">Diverging Group 4</text>
<g opacity="0.88"><path d="M384.7 1280.07H400.5" stroke="#634C3F" stroke-width="1.1"/><circle class="mk1" cx="392.6" cy="1280.07" r="1.85" fill="#44352E"/></g>
<text class="lgt" x="405.6" y="1282.57">Diverging Group 5</text>
<path class="sp" d="M377.5 1502.56V1231H681.4"/>
<path class="sp2" d="M681.4 1230.5V1502.56H377"/>
<text class="yt" x="372" y="1256.49">10.0%</text>
<text class="yt" x="372" y="1314.64">8.0%</text>
<text class="yt" x="372" y="1372.79">6.0%</text>
<text class="yt" x="372" y="1430.94">4.0%</text>
<text class="yt" x="372" y="1489.09">2.0%</text>
<text class="xt" x="391.11" y="1512.76">2009</text>
<text class="xt" x="529.25" y="1512.76">2014</text>
<text class="xt" x="667.39" y="1512.76">2019</text>
<path class="tk" d="M377.5 1253.89h-2.4M377.5 1312.04h-2.4M377.5 1370.19h-2.4M377.5 1428.34h-2.4M377.5 1486.49h-2.4M391.11 1502.56v2.4M529.25 1502.56v2.4M667.39 1502.56v2.4"/>
<text class="xl" x="529.45" y="1524.3">Year</text>
</g>
<g>
<text class="ttl" x="712.55" y="1226.7">o. Ultra-processed beverages</text>
<g class="ser">
<path d="M726.26 1353.42 L753.89 1355.61 L781.52 1357.98 L809.15 1360.9 L836.77 1360.53 L864.4 1360.53 L892.03 1361.44 L919.65 1361.62 L947.28 1364.36 L974.91 1365.64 L1002.54 1364.54" stroke="#F19D88" fill="none"/>
<g class="mk" fill="#CF867C"><circle cx="726.26" cy="1353.42" r="1.85"/><circle cx="753.89" cy="1355.61" r="1.85"/><circle cx="781.52" cy="1357.98" r="1.85"/><circle cx="809.15" cy="1360.9" r="1.85"/><circle cx="836.77" cy="1360.53" r="1.85"/><circle cx="864.4" cy="1360.53" r="1.85"/><circle cx="892.03" cy="1361.44" r="1.85"/><circle cx="919.65" cy="1361.62" r="1.85"/><circle cx="947.28" cy="1364.36" r="1.85"/><circle cx="974.91" cy="1365.64" r="1.85"/><circle cx="1002.54" cy="1364.54" r="1.85"/></g>
<path d="M726.26 1418.32 L753.89 1419.41 L781.52 1420.14 L809.15 1423.24 L836.77 1424.15 L864.4 1424.15 L892.03 1426.34 L919.65 1427.43 L947.28 1430.35 L974.91 1430.71 L1002.54 1430.35" stroke="#4FB6CE" fill="none"/>
<g class="mk" fill="#3A97AB"><circle cx="726.26" cy="1418.32" r="1.85"/><circle cx="753.89" cy="1419.41" r="1.85"/><circle cx="781.52" cy="1420.14" r="1.85"/><circle cx="809.15" cy="1423.24" r="1.85"/><circle cx="836.77" cy="1424.15" r="1.85"/><circle cx="864.4" cy="1424.15" r="1.85"/><circle cx="892.03" cy="1426.34" r="1.85"/><circle cx="919.65" cy="1427.43" r="1.85"/><circle cx="947.28" cy="1430.35" r="1.85"/><circle cx="974.91" cy="1430.71" r="1.85"/><circle cx="1002.54" cy="1430.35" r="1.85"/></g>
<path d="M726.26 1243.86 L753.89 1244.23 L781.52 1250.79 L809.15 1249.7 L836.77 1258.45 L864.4 1260.27 L892.03 1258.45 L919.65 1255.71 L947.28 1255.17 L974.91 1258.99 L1002.54 1271.21" stroke="#E64B35" fill="none"/>
<g class="mk" fill="#BE372F"><circle cx="726.26" cy="1243.86" r="1.85"/><circle cx="753.89" cy="1244.23" r="1.85"/><circle cx="781.52" cy="1250.79" r="1.85"/><circle cx="809.15" cy="1249.7" r="1.85"/><circle cx="836.77" cy="1258.45" r="1.85"/><circle cx="864.4" cy="1260.27" r="1.85"/><circle cx="892.03" cy="1258.45" r="1.85"/><circle cx="919.65" cy="1255.71" r="1.85"/><circle cx="947.28" cy="1255.17" r="1.85"/><circle cx="974.91" cy="1258.99" r="1.85"/><circle cx="1002.54" cy="1271.21" r="1.85"/></g>
<path d="M726.26 1454.78 L753.89 1456.05 L781.52 1456.42 L809.15 1456.6 L836.77 1457.51 L864.4 1458.97 L892.03 1460.79 L919.65 1461.7 L947.28 1463.53 L974.91 1464.26 L1002.54 1464.62" stroke="#D9B92E" fill="none"/>
<g class="mk" fill="#AD9420"><circle cx="726.26" cy="1454.78" r="1.85"/><circle cx="753.89" cy="1456.05" r="1.85"/><circle cx="781.52" cy="1456.42" r="1.85"/><circle cx="809.15" cy="1456.6" r="1.85"/><circle cx="836.77" cy="1457.51" r="1.85"/><circle cx="864.4" cy="1458.97" r="1.85"/><circle cx="892.03" cy="1460.79" r="1.85"/><circle cx="919.65" cy="1461.7" r="1.85"/><circle cx="947.28" cy="1463.53" r="1.85"/><circle cx="974.91" cy="1464.26" r="1.85"/><circle cx="1002.54" cy="1464.62" r="1.85"/></g>
<path d="M726.26 1482.12 L753.89 1482.12 L781.52 1483.21 L809.15 1482.85 L836.77 1483.21 L864.4 1483.76 L892.03 1484.67 L919.65 1485.4 L947.28 1487.41 L974.91 1489.23 L1002.54 1490.32" stroke="#634C3F" fill="none"/>
<g class="mk" fill="#44352E"><circle cx="726.26" cy="1482.12" r="1.85"/><circle cx="753.89" cy="1482.12" r="1.85"/><circle cx="781.52" cy="1483.21" r="1.85"/><circle cx="809.15" cy="1482.85" r="1.85"/><circle cx="836.77" cy="1483.21" r="1.85"/><circle cx="864.4" cy="1483.76" r="1.85"/><circle cx="892.03" cy="1484.67" r="1.85"/><circle cx="919.65" cy="1485.4" r="1.85"/><circle cx="947.28" cy="1487.41" r="1.85"/><circle cx="974.91" cy="1489.23" r="1.85"/><circle cx="1002.54" cy="1490.32" r="1.85"/></g>
</g>
<rect class="lgb" x="717.95" y="1234.5" width="79.6" height="52.6" rx="0.8"/>
<g opacity="0.88"><path d="M719.85 1239.88H735.65" stroke="#F19D88" stroke-width="1.1"/><circle class="mk1" cx="727.75" cy="1239.88" r="1.85" fill="#CF867C"/></g>
<text class="lgt" x="740.75" y="1242.38">Club 1</text>
<g opacity="0.88"><path d="M719.85 1249.92H735.65" stroke="#4FB6CE" stroke-width="1.1"/><circle class="mk1" cx="727.75" cy="1249.92" r="1.85" fill="#3A97AB"/></g>
<text class="lgt" x="740.75" y="1252.42">Club 2</text>
<g opacity="0.88"><path d="M719.85 1259.97H735.65" stroke="#E64B35" stroke-width="1.1"/><circle class="mk1" cx="727.75" cy="1259.97" r="1.85" fill="#BE372F"/></g>
<text class="lgt" x="740.75" y="1262.47">Diverging Group 3</text>
<g opacity="0.88"><path d="M719.85 1270.02H735.65" stroke="#D9B92E" stroke-width="1.1"/><circle class="mk1" cx="727.75" cy="1270.02" r="1.85" fill="#AD9420"/></g>
<text class="lgt" x="740.75" y="1272.52">Diverging Group 4</text>
<g opacity="0.88"><path d="M719.85 1280.07H735.65" stroke="#634C3F" stroke-width="1.1"/><circle class="mk1" cx="727.75" cy="1280.07" r="1.85" fill="#44352E"/></g>
<text class="lgt" x="740.75" y="1282.57">Diverging Group 5</text>
<path class="sp" d="M712.65 1502.56V1231H1016.55"/>
<path class="sp2" d="M1016.55 1230.5V1502.56H712.15"/>
<text class="yt" x="707.15" y="1233.7">3.0%</text>
<text class="yt" x="707.15" y="1282.01">2.5%</text>
<text class="yt" x="707.15" y="1330.5">2.0%</text>
<text class="yt" x="707.15" y="1379.17">1.5%</text>
<text class="yt" x="707.15" y="1427.66">1.0%</text>
<text class="yt" x="707.15" y="1475.97">0.5%</text>
<text class="xt" x="726.26" y="1512.76">2009</text>
<text class="xt" x="864.4" y="1512.76">2014</text>
<text class="xt" x="1002.54" y="1512.76">2019</text>
<path class="tk" d="M712.65 1231.1h-2.4M712.65 1279.41h-2.4M712.65 1327.9h-2.4M712.65 1376.57h-2.4M712.65 1425.06h-2.4M712.65 1473.37h-2.4M726.26 1502.56v2.4M864.4 1502.56v2.4M1002.54 1502.56v2.4"/>
<text class="xl" x="864.6" y="1524.3">Year</text>
</g>
</svg>
</body>
</html>
